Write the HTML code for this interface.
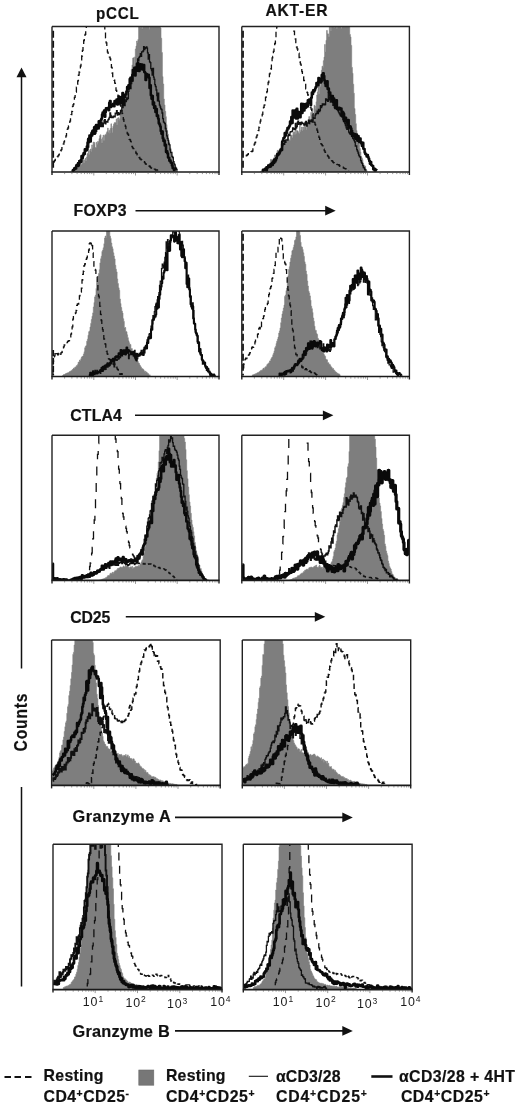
<!DOCTYPE html>
<html><head><meta charset="utf-8"><title>Figure</title>
<style>
html,body{margin:0;padding:0;background:#fff}
svg{display:block}
text{font-family:"Liberation Sans",sans-serif;font-weight:bold;fill:#111;stroke:#111;stroke-width:0.2px}
text.tk{font-weight:normal;stroke:none;fill:#1a1a1a}
</style></head><body>
<svg width="520" height="1109" viewBox="0 0 520 1109">
<rect width="520" height="1109" fill="#fff"/>
<clipPath id="c00"><rect x="52.0" y="26.5" width="167.0" height="145.5"/></clipPath>
<g clip-path="url(#c00)">
<path d="M70.6 171.9H71.3V170.7H71.9V170.4H72.6V170.2H73.3V168.9H73.9V169.0H74.6V168.5H75.2V166.6H75.9V168.5H76.6V167.8H77.2V166.4H77.9V166.5H78.5V166.9H79.2V165.8H79.9V165.5H80.5V163.4H81.2V164.7H81.8V163.4H82.5V162.7H83.2V159.4H83.8V162.9H84.5V160.0H85.1V158.3H85.8V161.1H86.5V157.0H87.1V153.6H87.8V154.2H88.4V149.7H89.1V154.5H89.8V150.7H90.4V149.0H91.1V151.4H91.7V144.9H92.4V148.2H93.1V142.0H93.7V144.2H94.4V142.4H95.0V147.5H95.7V147.5H96.4V142.3H97.0V144.2H97.7V141.3H98.3V142.3H99.0V138.6H99.7V135.7H100.3V134.8H101.0V139.3H101.6V143.1H102.3V137.7H103.0V135.1H103.6V140.5H104.3V135.7H104.9V134.7H105.6V134.4H106.3V132.7H106.9V131.6H107.6V128.0H108.2V132.5H108.9V130.4H109.6V133.2H110.2V128.5H110.9V123.8H111.5V128.1H112.2V132.4H112.9V126.2H113.5V124.2H114.2V122.7H114.8V122.6H115.5V123.1H116.2V118.9H116.8V125.1H117.5V118.2H118.1V117.7H118.8V120.2H119.5V118.8H120.1V111.6H120.8V111.5H121.4V111.0H122.1V106.1H122.8V98.3H123.4V104.1H124.1V102.4H124.7V98.3H125.4V91.0H126.1V92.0H126.7V89.1H127.4V88.7H128.0V93.3H128.7V92.8H129.4V88.1H130.0V82.5H130.7V76.8H131.3V69.3H132.0V64.9H132.7V58.1H133.3V57.8H134.0V65.6H134.6V56.9H135.3V49.0H136.0V46.0H136.6V41.0H137.3V43.0H137.9V39.5H138.6V25.2H139.3V26.2H139.9V20.5H140.6V27.8H141.2V22.2H141.9V29.1H142.6V20.5H143.2V20.5H143.9V22.8H144.5V26.2H145.2V24.0H145.9V20.5H146.5V22.3H147.2V21.6H147.8V20.5H148.5V20.5H149.2V29.2H149.8V20.5H150.5V20.5H151.1V24.3H151.8V22.1H152.5V21.2H153.1V25.0H153.8V23.7H154.4V23.1H155.1V25.8H155.8V22.8H156.4V20.5H157.1V20.5H157.7V20.5H158.4V22.4H159.1V20.5H159.7V20.5H160.4V27.9H161.0V38.2H161.7V52.6H162.4V76.6H163.0V84.0H163.7V99.0H164.3V104.9H165.0V111.3H165.7V116.7H166.3V124.6H167.0V130.6H167.6V134.2H168.3V140.4H169.0V142.1H169.6V148.3H170.3V147.9H170.9V153.9H171.6V158.3H172.3V161.4H172.9V163.9H173.6V161.5H174.2V166.0H174.9V168.0H175.6V169.4H176.2V169.6H176.9V170.9H177.5V171.9L177.5 172.0 L70.6 172.0Z" fill="#7e7e7e" stroke="#7e7e7e" stroke-width="0.6"/>
<path d="M53.3 162.4H54.0V161.3H54.6V160.4H55.3V159.5H56.0V158.3H56.6V157.5H57.3V156.9H57.9V155.9H58.6V154.8H59.3V153.2H59.9V151.5H60.6V150.8H61.2V149.7H61.9V147.6H62.6V146.0H63.2V144.1H63.9V141.8H64.5V139.9H65.2V138.1H65.9V135.8H66.5V132.3H67.2V129.4H67.8V128.0H68.5V125.9H69.2V123.4H69.8V121.1H70.5V117.5H71.1V114.7H71.8V111.4H72.5V106.3H73.1V104.7H73.8V101.4H74.4V97.3H75.1V95.7H75.8V92.1H76.4V87.2H77.1V84.4H77.7V80.8H78.4V75.2H79.1V72.0H79.7V69.5H80.4V66.0H81.0V61.5H81.7V56.0H82.4V50.3H83.0V44.8H83.7V40.5H84.3V38.0H85.0V34.3H85.7V30.3H86.3V25.6H87.0V20.6H87.6V21.1H88.3V21.4H89.0V21.8H89.6V22.1H90.3V23.0H90.9V22.7H91.6V21.2H92.3V20.5H92.9V20.7H93.6V22.0H94.2V21.5H94.9V20.9H95.6V22.0H96.2V22.0H96.9V21.0H97.5V21.8H98.2V22.3H98.9V21.9H99.5V22.7H100.2V23.3H100.8V22.1H101.5V20.8H102.2V21.3H102.8V21.6H103.5V20.5H104.1V23.7H104.8V32.4H105.5V37.9H106.1V42.8H106.8V47.6H107.4V52.2H108.1V55.3H108.8V56.2H109.4V57.1H110.1V59.0H110.7V61.3H111.4V67.3H112.1V73.0H112.7V76.7H113.4V78.9H114.0V80.2H114.7V83.2H115.4V86.9H116.0V90.4H116.7V93.1H117.3V93.8H118.0V96.2H118.7V100.8H119.3V103.3H120.0V104.9H120.6V107.8H121.3V110.6H122.0V113.5H122.6V116.5H123.3V119.5H123.9V122.3H124.6V123.8H125.3V126.4H125.9V129.7H126.6V131.7H127.2V133.5H127.9V134.5H128.6V136.9H129.2V139.4H129.9V139.9H130.5V141.3H131.2V143.8H131.9V146.5H132.5V147.9H133.2V148.7H133.8V149.4H134.5V149.8H135.2V151.4H135.8V153.0H136.5V153.7H137.1V154.9H137.8V155.6H138.5V156.2H139.1V157.5H139.8V158.8H140.4V159.2H141.1V159.8H141.8V160.3H142.4V160.6H143.1V161.4H143.7V161.6H144.4V162.4H145.1V163.6H145.7V164.1H146.4V164.4H147.0V165.2H147.7V165.4H148.4V165.3H149.0V166.0H149.7V166.5H150.3V167.4H151.0V168.2H151.7V168.3H152.3V168.5H153.0V169.4H153.6V169.6H154.3V169.1H155.0V169.5H155.6V170.0H156.3V170.1H156.9V170.0H157.6V169.9H158.3V170.4" fill="none" stroke="#111" stroke-width="1.30" stroke-dasharray="5.5 3.8"/>
<path d="M72.3 171.8H72.9V170.6H73.6V169.0H74.3V168.1H74.9V167.5H75.6V166.0H76.2V164.6H76.9V164.8H77.6V162.6H78.2V163.0H78.9V160.6H79.5V160.8H80.2V159.8H80.9V160.7H81.5V157.1H82.2V155.8H82.8V155.2H83.5V153.2H84.2V152.3H84.8V152.0H85.5V151.0H86.1V150.7H86.8V146.3H87.5V149.2H88.1V147.0H88.8V142.7H89.4V138.3H90.1V140.0H90.8V138.8H91.4V133.8H92.1V135.9H92.7V134.6H93.4V132.9H94.1V134.3H94.7V134.2H95.4V131.0H96.0V131.4H96.7V129.2H97.4V128.2H98.0V128.8H98.7V128.8H99.3V126.2H100.0V122.6H100.7V126.6H101.3V122.1H102.0V124.3H102.6V126.7H103.3V123.1H104.0V120.5H104.6V119.6H105.3V123.9H105.9V121.3H106.6V121.9H107.3V122.1H107.9V119.9H108.6V119.0H109.2V117.4H109.9V113.0H110.6V115.4H111.2V117.7H111.9V117.0H112.5V117.6H113.2V116.1H113.9V116.1H114.5V116.8H115.2V113.1H115.8V113.7H116.5V110.6H117.2V115.1H117.8V112.7H118.5V113.1H119.1V114.6H119.8V113.2H120.5V110.4H121.1V110.9H121.8V105.1H122.4V107.5H123.1V105.6H123.8V100.6H124.4V105.5H125.1V99.9H125.7V101.5H126.4V97.8H127.1V99.6H127.7V98.3H128.4V91.3H129.0V87.5H129.7V88.5H130.4V88.6H131.0V83.5H131.7V80.7H132.3V81.2H133.0V71.0H133.7V73.9H134.3V69.9H135.0V71.9H135.6V67.1H136.3V63.9H137.0V63.6H137.6V58.8H138.3V60.9H138.9V57.3H139.6V56.4H140.3V53.7H140.9V56.4H141.6V51.8H142.2V51.9H142.9V51.0H143.6V46.7H144.2V49.7H144.9V48.3H145.5V47.6H146.2V47.0H146.9V48.2H147.5V52.9H148.2V59.2H148.8V54.6H149.5V61.8H150.2V62.6H150.8V68.6H151.5V70.6H152.1V75.1H152.8V68.5H153.5V77.1H154.1V79.4H154.8V84.7H155.4V86.5H156.1V90.0H156.8V95.6H157.4V100.8H158.1V93.1H158.7V101.2H159.4V105.1H160.1V107.0H160.7V108.9H161.4V109.5H162.0V113.0H162.7V118.7H163.4V121.9H164.0V122.7H164.7V123.7H165.3V128.5H166.0V131.2H166.7V135.8H167.3V138.4H168.0V140.4H168.6V144.0H169.3V144.8H170.0V149.8H170.6V152.7H171.3V152.5H171.9V156.5H172.6V157.5H173.3V161.7H173.9V163.8H174.6V164.9H175.2V167.5H175.9V168.4H176.6V169.8H177.2V170.5" fill="none" stroke="#111" stroke-width="1.30"/>
<path d="M72.3 170.9H72.9V170.0H73.6V169.7H74.3V168.3H74.9V168.8H75.6V168.4H76.2V166.2H76.9V164.7H77.6V165.9H78.2V165.6H78.9V163.6H79.5V161.1H80.2V161.5H80.9V161.8H81.5V156.1H82.2V157.9H82.8V155.5H83.5V153.3H84.2V153.9H84.8V149.2H85.5V150.1H86.1V150.2H86.8V146.4H87.5V142.6H88.1V139.1H88.8V138.2H89.4V135.6H90.1V141.5H90.8V136.2H91.4V133.1H92.1V131.2H92.7V130.4H93.4V130.7H94.1V127.2H94.7V133.1H95.4V126.2H96.0V125.0H96.7V126.6H97.4V128.3H98.0V127.0H98.7V121.3H99.3V122.1H100.0V120.7H100.7V120.6H101.3V118.8H102.0V114.5H102.6V112.5H103.3V115.3H104.0V110.4H104.6V116.7H105.3V112.1H105.9V108.2H106.6V109.3H107.3V107.9H107.9V108.1H108.6V110.3H109.2V102.7H109.9V101.0H110.6V107.0H111.2V105.1H111.9V105.7H112.5V106.1H113.2V103.7H113.9V106.3H114.5V100.9H115.2V103.6H115.8V100.7H116.5V99.6H117.2V104.6H117.8V104.3H118.5V96.4H119.1V98.4H119.8V101.8H120.5V103.3H121.1V97.1H121.8V97.7H122.4V93.0H123.1V104.5H123.8V97.2H124.4V97.1H125.1V94.8H125.7V94.2H126.4V91.6H127.1V86.9H127.7V89.0H128.4V85.2H129.0V87.8H129.7V78.9H130.4V77.7H131.0V80.1H131.7V80.5H132.3V74.7H133.0V70.0H133.7V70.6H134.3V67.8H135.0V75.4H135.6V70.5H136.3V70.7H137.0V66.6H137.6V63.1H138.3V69.4H138.9V71.0H139.6V66.7H140.3V64.2H140.9V68.9H141.6V64.4H142.2V69.6H142.9V65.0H143.6V65.0H144.2V72.0H144.9V72.8H145.5V80.1H146.2V73.9H146.9V76.6H147.5V74.7H148.2V74.8H148.8V77.8H149.5V88.0H150.2V85.2H150.8V95.3H151.5V98.8H152.1V95.9H152.8V104.5H153.5V102.6H154.1V107.9H154.8V106.3H155.4V112.1H156.1V109.1H156.8V115.9H157.4V115.4H158.1V118.7H158.7V123.2H159.4V124.6H160.1V126.6H160.7V131.1H161.4V133.8H162.0V131.5H162.7V138.3H163.4V141.0H164.0V140.6H164.7V145.4H165.3V144.7H166.0V152.0H166.7V151.2H167.3V153.6H168.0V157.5H168.6V157.7H169.3V160.7H170.0V160.6H170.6V162.5H171.3V163.1H171.9V165.6H172.6V168.0H173.3V168.5H173.9V169.9H174.6V169.0H175.2V170.0" fill="none" stroke="#0a0a0a" stroke-width="2.50" stroke-linejoin="round"/>

<path d="M53.2 30.7V170.4" stroke="#111" stroke-width="1.8" stroke-dasharray="7 3" fill="none"/>
</g>
<path d="M52.0 26.5H219.0V175.0" fill="none" stroke="#222" stroke-width="1.4"/>
<path d="M52.0 26.5V175.0" fill="none" stroke="#222" stroke-width="1.4"/>
<path d="M51.5 172.0H219.5" fill="none" stroke="#1a1a1a" stroke-width="1.6"/>
<path d="M64.6 172.5v1.6M71.9 172.5v1.6M77.1 172.5v1.6M81.2 172.5v1.6M84.5 172.5v1.6M87.3 172.5v1.6M89.7 172.5v1.6M91.8 172.5v1.6M106.3 172.5v1.6M113.7 172.5v1.6M118.9 172.5v1.6M122.9 172.5v1.6M126.2 172.5v1.6M129.0 172.5v1.6M131.5 172.5v1.6M133.6 172.5v1.6M93.8 172.5v3M148.1 172.5v1.6M155.4 172.5v1.6M160.6 172.5v1.6M164.7 172.5v1.6M168.0 172.5v1.6M170.8 172.5v1.6M173.2 172.5v1.6M175.3 172.5v1.6M135.5 172.5v3M189.8 172.5v1.6M197.2 172.5v1.6M202.4 172.5v1.6M206.4 172.5v1.6M209.7 172.5v1.6M212.5 172.5v1.6M215.0 172.5v1.6M217.1 172.5v1.6M177.2 172.5v3" stroke="#555" stroke-width="0.6" fill="none"/>
<clipPath id="c01"><rect x="241.8" y="26.5" width="167.6" height="145.5"/></clipPath>
<g clip-path="url(#c01)">
<path d="M260.6 171.2H261.3V171.1H261.9V170.6H262.6V169.9H263.3V169.9H263.9V168.9H264.6V168.5H265.2V169.1H265.9V166.9H266.6V166.9H267.2V167.6H267.9V165.3H268.5V165.3H269.2V163.1H269.9V165.5H270.5V159.4H271.2V160.1H271.8V159.4H272.5V162.4H273.2V159.6H273.8V157.7H274.5V155.0H275.1V156.7H275.8V155.3H276.5V152.9H277.1V150.5H277.8V150.1H278.4V151.5H279.1V150.8H279.8V149.4H280.4V148.0H281.1V143.8H281.7V146.6H282.4V143.4H283.1V144.7H283.7V144.7H284.4V141.3H285.0V139.5H285.7V143.3H286.4V141.3H287.0V138.5H287.7V132.4H288.3V138.8H289.0V139.9H289.7V140.5H290.3V135.7H291.0V135.2H291.6V135.2H292.3V137.8H293.0V132.3H293.6V134.4H294.3V131.8H294.9V134.3H295.6V129.1H296.3V133.5H296.9V130.7H297.6V130.9H298.2V132.4H298.9V133.5H299.6V125.2H300.2V131.8H300.9V130.0H301.5V127.0H302.2V131.0H302.9V127.0H303.5V129.4H304.2V123.5H304.8V122.0H305.5V127.3H306.2V129.4H306.8V124.4H307.5V124.5H308.1V119.8H308.8V116.6H309.5V119.2H310.1V123.7H310.8V112.5H311.4V114.8H312.1V108.6H312.8V113.1H313.4V113.8H314.1V105.2H314.7V106.1H315.4V109.3H316.1V101.8H316.7V95.0H317.4V91.9H318.0V86.6H318.7V94.0H319.4V84.1H320.0V86.4H320.7V81.1H321.3V70.3H322.0V66.2H322.7V67.5H323.3V60.7H324.0V57.1H324.6V44.5H325.3V51.9H326.0V40.3H326.6V30.4H327.3V33.8H327.9V33.9H328.6V36.8H329.3V21.4H329.9V20.5H330.6V30.9H331.2V22.2H331.9V20.5H332.6V20.5H333.2V20.5H333.9V28.0H334.5V20.5H335.2V20.5H335.9V20.5H336.5V28.4H337.2V20.5H337.8V24.3H338.5V22.7H339.2V22.6H339.8V20.5H340.5V24.4H341.1V28.6H341.8V21.3H342.5V20.5H343.1V20.5H343.8V22.3H344.4V20.5H345.1V21.0H345.8V21.6H346.4V20.5H347.1V25.0H347.7V22.5H348.4V21.2H349.1V25.2H349.7V34.5H350.4V36.9H351.0V45.4H351.7V67.4H352.4V73.3H353.0V84.2H353.7V93.3H354.3V108.5H355.0V114.5H355.7V123.7H356.3V130.5H357.0V133.5H357.6V140.0H358.3V142.3H359.0V144.5H359.6V148.5H360.3V152.0H360.9V156.6H361.6V157.9H362.3V159.6H362.9V163.5H363.6V164.9H364.2V165.8H364.9V166.1H365.6V169.0H366.2V170.0H366.9V171.0L366.9 172.0 L260.6 172.0Z" fill="#7e7e7e" stroke="#7e7e7e" stroke-width="0.6"/>
<path d="M245.7 155.8H246.3V155.5H247.0V155.0H247.6V154.3H248.3V153.6H249.0V153.2H249.6V152.9H250.3V152.0H250.9V151.6H251.6V151.5H252.3V151.0H252.9V148.8H253.6V146.5H254.2V144.1H254.9V142.5H255.6V140.1H256.2V137.1H256.9V135.2H257.5V133.1H258.2V130.6H258.9V127.1H259.5V123.8H260.2V121.2H260.8V119.3H261.5V117.1H262.2V114.3H262.8V110.7H263.5V107.4H264.1V105.1H264.8V101.2H265.5V97.3H266.1V95.2H266.8V91.6H267.4V86.3H268.1V82.5H268.8V78.3H269.4V73.9H270.1V71.6H270.7V69.0H271.4V62.7H272.1V57.8H272.7V56.5H273.4V51.4H274.0V46.0H274.7V43.5H275.4V37.9H276.0V31.7H276.7V26.6H277.3V20.5H278.0V20.5H278.7V21.6H279.3V22.1H280.0V23.8H280.6V23.6H281.3V21.7H282.0V21.6H282.6V22.0H283.3V22.4H283.9V21.2H284.6V20.5H285.3V20.5H285.9V20.5H286.6V21.9H287.2V21.0H287.9V20.5H288.6V20.5H289.2V20.5H289.9V20.5H290.5V20.9H291.2V22.2H291.9V22.8H292.5V22.7H293.2V25.9H293.8V31.2H294.5V35.8H295.2V38.9H295.8V42.7H296.5V47.0H297.1V48.8H297.8V50.3H298.5V53.2H299.1V57.5H299.8V61.8H300.4V64.2H301.1V67.3H301.8V71.6H302.4V75.1H303.1V76.9H303.7V80.5H304.4V82.8H305.1V83.7H305.7V88.8H306.4V92.0H307.0V92.6H307.7V95.0H308.4V97.9H309.0V101.5H309.7V104.7H310.3V107.1H311.0V109.2H311.7V110.7H312.3V113.7H313.0V117.9H313.6V120.9H314.3V122.4H315.0V124.5H315.6V126.5H316.3V128.3H316.9V130.2H317.6V132.3H318.3V135.1H318.9V137.3H319.6V139.3H320.2V141.9H320.9V143.8H321.6V144.7H322.2V145.7H322.9V147.4H323.5V149.1H324.2V150.7H324.9V152.1H325.5V153.1H326.2V154.0H326.8V155.0H327.5V155.9H328.2V156.7H328.8V158.2H329.5V159.6H330.1V159.9H330.8V160.1H331.5V160.6H332.1V161.2H332.8V162.1H333.4V162.7H334.1V163.0H334.8V163.4H335.4V163.8H336.1V164.1H336.7V164.4H337.4V164.6H338.1V164.6H338.7V165.0H339.4V166.0H340.0V166.3H340.7V166.1H341.4V166.7H342.0V167.2H342.7V167.2H343.3V167.9H344.0V168.4H344.7V168.6H345.3V168.7H346.0V169.0H346.6V169.5H347.3V169.9H348.0V170.4H348.6V170.8" fill="none" stroke="#111" stroke-width="1.30" stroke-dasharray="5.5 3.8"/>
<path d="M262.3 170.3H262.9V170.9H263.6V170.3H264.3V169.0H264.9V168.2H265.6V168.0H266.2V166.7H266.9V167.1H267.6V166.5H268.2V165.1H268.9V165.1H269.5V165.3H270.2V164.7H270.9V164.1H271.5V162.6H272.2V161.9H272.8V160.9H273.5V160.7H274.2V161.3H274.8V159.5H275.5V158.8H276.1V157.6H276.8V153.6H277.5V154.1H278.1V152.8H278.8V153.7H279.4V153.1H280.1V149.2H280.8V148.9H281.4V148.4H282.1V145.9H282.7V144.6H283.4V143.3H284.1V144.3H284.7V140.7H285.4V142.4H286.0V139.9H286.7V139.8H287.4V140.0H288.0V135.8H288.7V134.5H289.3V135.4H290.0V132.2H290.7V131.6H291.3V131.6H292.0V131.1H292.6V127.9H293.3V128.5H294.0V129.3H294.6V129.7H295.3V123.3H295.9V128.1H296.6V126.5H297.3V122.3H297.9V121.1H298.6V124.3H299.2V122.6H299.9V123.4H300.6V124.5H301.2V122.1H301.9V122.9H302.5V123.3H303.2V123.8H303.9V125.2H304.5V124.9H305.2V122.3H305.8V121.5H306.5V126.2H307.2V123.2H307.8V122.8H308.5V120.2H309.1V123.6H309.8V120.9H310.5V121.5H311.1V120.0H311.8V121.5H312.4V122.1H313.1V118.2H313.8V118.1H314.4V118.4H315.1V115.1H315.7V113.9H316.4V113.5H317.1V111.1H317.7V113.7H318.4V109.3H319.0V111.5H319.7V110.6H320.4V105.6H321.0V107.5H321.7V105.9H322.3V104.0H323.0V104.9H323.7V104.0H324.3V104.9H325.0V104.6H325.6V99.0H326.3V99.5H327.0V100.7H327.6V101.3H328.3V92.6H328.9V99.9H329.6V97.2H330.3V102.0H330.9V98.8H331.6V99.0H332.2V101.9H332.9V105.4H333.6V104.1H334.2V100.7H334.9V108.5H335.5V105.4H336.2V108.2H336.9V109.4H337.5V109.6H338.2V111.7H338.8V112.8H339.5V114.0H340.2V115.6H340.8V115.6H341.5V114.0H342.1V117.0H342.8V119.6H343.5V121.1H344.1V121.1H344.8V123.5H345.4V125.5H346.1V127.8H346.8V129.4H347.4V127.0H348.1V128.2H348.7V132.2H349.4V133.3H350.1V134.3H350.7V129.2H351.4V133.7H352.0V130.6H352.7V138.4H353.4V139.0H354.0V140.6H354.7V142.0H355.3V146.0H356.0V146.0H356.7V149.7H357.3V151.2H358.0V153.0H358.6V155.2H359.3V156.6H360.0V157.2H360.6V160.6H361.3V162.3H361.9V163.3H362.6V165.6H363.3V167.5H363.9V167.8H364.6V169.5H365.2V170.1H365.9V170.6" fill="none" stroke="#111" stroke-width="1.30"/>
<path d="M262.3 171.3H262.9V169.8H263.6V169.7H264.3V169.8H264.9V169.4H265.6V168.9H266.2V170.2H266.9V167.2H267.6V167.4H268.2V165.6H268.9V166.7H269.5V166.8H270.2V166.4H270.9V164.1H271.5V164.0H272.2V165.1H272.8V162.7H273.5V162.9H274.2V159.5H274.8V161.4H275.5V159.9H276.1V158.2H276.8V155.3H277.5V155.2H278.1V154.6H278.8V153.7H279.4V152.1H280.1V150.8H280.8V150.1H281.4V150.1H282.1V141.7H282.7V140.5H283.4V137.9H284.1V137.4H284.7V132.9H285.4V135.6H286.0V132.9H286.7V130.6H287.4V128.0H288.0V128.4H288.7V127.0H289.3V125.8H290.0V121.6H290.7V123.6H291.3V117.1H292.0V123.1H292.6V110.5H293.3V116.0H294.0V113.2H294.6V117.5H295.3V110.2H295.9V118.6H296.6V108.8H297.3V118.4H297.9V113.5H298.6V111.9H299.2V112.6H299.9V117.2H300.6V113.0H301.2V103.7H301.9V113.0H302.5V109.8H303.2V104.0H303.9V110.5H304.5V104.3H305.2V107.9H305.8V107.3H306.5V103.6H307.2V106.4H307.8V100.3H308.5V102.8H309.1V99.5H309.8V99.5H310.5V104.9H311.1V97.8H311.8V92.5H312.4V94.0H313.1V90.3H313.8V91.4H314.4V90.3H315.1V88.5H315.7V86.9H316.4V83.1H317.1V84.9H317.7V85.3H318.4V77.9H319.0V78.6H319.7V78.7H320.4V82.6H321.0V81.6H321.7V74.9H322.3V77.7H323.0V73.2H323.7V76.1H324.3V80.5H325.0V83.6H325.6V85.9H326.3V83.2H327.0V81.3H327.6V88.9H328.3V88.6H328.9V92.2H329.6V92.6H330.3V95.7H330.9V96.8H331.6V98.7H332.2V95.9H332.9V101.8H333.6V98.5H334.2V101.3H334.9V107.6H335.5V103.9H336.2V100.2H336.9V109.0H337.5V108.4H338.2V109.7H338.8V107.8H339.5V109.3H340.2V108.8H340.8V108.5H341.5V116.0H342.1V111.7H342.8V112.5H343.5V113.7H344.1V121.2H344.8V119.8H345.4V117.8H346.1V120.0H346.8V122.8H347.4V125.0H348.1V120.0H348.7V127.6H349.4V126.2H350.1V126.4H350.7V128.4H351.4V132.5H352.0V136.0H352.7V133.6H353.4V135.9H354.0V133.9H354.7V137.4H355.3V138.8H356.0V134.5H356.7V137.3H357.3V140.7H358.0V136.0H358.6V139.6H359.3V142.3H360.0V138.6H360.6V142.0H361.3V143.7H361.9V146.1H362.6V142.8H363.3V148.8H363.9V149.1H364.6V152.4H365.2V154.0H365.9V154.4H366.6V156.4H367.2V154.9H367.9V156.9H368.5V158.7H369.2V160.9H369.9V163.7H370.5V162.1H371.2V165.0H371.8V165.4H372.5V166.0H373.2V169.3H373.8V168.5H374.5V170.5H375.1V170.6H375.8V169.2H376.5V168.9" fill="none" stroke="#0a0a0a" stroke-width="2.50" stroke-linejoin="round"/>

<path d="M243.0 30.7V170.4" stroke="#111" stroke-width="1.8" stroke-dasharray="7 3" fill="none"/>
</g>
<path d="M241.8 26.5H409.4V175.0" fill="none" stroke="#222" stroke-width="1.4"/>
<path d="M241.8 26.5V175.0" fill="none" stroke="#222" stroke-width="1.4"/>
<path d="M241.3 172.0H409.9" fill="none" stroke="#1a1a1a" stroke-width="1.6"/>
<path d="M254.4 172.5v1.6M261.8 172.5v1.6M267.0 172.5v1.6M271.1 172.5v1.6M274.4 172.5v1.6M277.2 172.5v1.6M279.6 172.5v1.6M281.8 172.5v1.6M296.3 172.5v1.6M303.7 172.5v1.6M308.9 172.5v1.6M313.0 172.5v1.6M316.3 172.5v1.6M319.1 172.5v1.6M321.5 172.5v1.6M323.7 172.5v1.6M283.7 172.5v3M338.2 172.5v1.6M345.6 172.5v1.6M350.8 172.5v1.6M354.9 172.5v1.6M358.2 172.5v1.6M361.0 172.5v1.6M363.4 172.5v1.6M365.6 172.5v1.6M325.6 172.5v3M380.1 172.5v1.6M387.5 172.5v1.6M392.7 172.5v1.6M396.8 172.5v1.6M400.1 172.5v1.6M402.9 172.5v1.6M405.3 172.5v1.6M407.5 172.5v1.6M367.5 172.5v3" stroke="#555" stroke-width="0.6" fill="none"/>
<clipPath id="c10"><rect x="52.0" y="231.0" width="167.0" height="145.5"/></clipPath>
<g clip-path="url(#c10)">
<path d="M62.3 375.7H63.0V375.0H63.6V374.5H64.3V374.5H64.9V374.1H65.6V373.6H66.3V373.3H66.9V373.1H67.6V372.8H68.2V372.7H68.9V372.0H69.6V371.5H70.2V371.3H70.9V370.7H71.5V370.6H72.2V369.5H72.9V369.1H73.5V368.1H74.2V368.8H74.8V367.0H75.5V367.2H76.2V365.8H76.8V365.4H77.5V364.6H78.1V362.2H78.8V362.0H79.5V360.0H80.1V361.0H80.8V358.8H81.4V357.0H82.1V356.5H82.8V356.0H83.4V354.0H84.1V351.7H84.7V347.8H85.4V346.2H86.1V345.6H86.7V341.2H87.4V339.2H88.0V335.2H88.7V331.7H89.4V330.9H90.0V327.0H90.7V323.4H91.3V319.6H92.0V316.2H92.7V312.9H93.3V307.0H94.0V302.5H94.6V296.9H95.3V295.3H96.0V288.4H96.6V282.3H97.3V279.5H97.9V276.0H98.6V273.4H99.3V269.7H99.9V262.9H100.6V258.8H101.2V256.3H101.9V251.5H102.6V250.1H103.2V247.8H103.9V243.7H104.5V238.1H105.2V236.0H105.9V237.4H106.5V230.8H107.2V231.2H107.8V228.5H108.5V227.2H109.2V230.1H109.8V236.2H110.5V238.4H111.1V243.0H111.8V246.8H112.5V248.7H113.1V252.8H113.8V256.0H114.4V258.9H115.1V265.3H115.8V269.2H116.4V271.9H117.1V278.9H117.7V283.6H118.4V287.8H119.1V290.3H119.7V299.0H120.4V303.5H121.0V307.5H121.7V311.0H122.4V313.0H123.0V318.7H123.7V321.4H124.3V327.9H125.0V327.5H125.7V331.4H126.3V331.8H127.0V334.8H127.6V337.7H128.3V340.8H129.0V342.7H129.6V344.4H130.3V344.5H130.9V348.7H131.6V348.6H132.3V352.2H132.9V353.9H133.6V354.6H134.2V356.2H134.9V356.2H135.6V360.3H136.2V359.8H136.9V361.4H137.5V361.3H138.2V362.9H138.9V363.4H139.5V365.0H140.2V366.2H140.8V367.2H141.5V368.5H142.2V368.7H142.8V369.3H143.5V369.9H144.1V371.4H144.8V371.1H145.5V372.4H146.1V371.9H146.8V372.7H147.4V373.5H148.1V373.8H148.8V375.0H149.4V375.2H150.1V374.8L150.1 376.5 L62.3 376.5Z" fill="#7e7e7e" stroke="#7e7e7e" stroke-width="0.6"/>
<path d="M52.3 374.0H53.0V361.1H53.6V358.9H54.3V355.9H55.0V353.6H55.6V352.5H56.3V351.8H56.9V353.6H57.6V354.9H58.3V353.5H58.9V352.8H59.6V354.6H60.2V354.4H60.9V352.8H61.6V352.3H62.2V351.3H62.9V349.3H63.5V346.8H64.2V344.8H64.9V343.8H65.5V342.6H66.2V342.5H66.8V342.6H67.5V341.3H68.2V341.2H68.8V340.6H69.5V339.0H70.1V336.8H70.8V334.2H71.5V332.1H72.1V326.9H72.8V319.1H73.4V314.8H74.1V313.9H74.8V313.6H75.4V312.8H76.1V310.3H76.7V305.3H77.4V303.9H78.1V304.0H78.7V300.4H79.4V295.8H80.0V293.3H80.7V292.2H81.4V288.2H82.0V280.0H82.7V274.3H83.3V271.1H84.0V265.6H84.7V264.0H85.3V262.7H86.0V259.4H86.6V257.9H87.3V253.8H88.0V253.2H88.6V250.0H89.3V243.7H89.9V242.9H90.6V243.8H91.3V242.1H91.9V245.6H92.6V252.9H93.2V261.6H93.9V267.2H94.6V269.4H95.2V270.2H95.9V274.4H96.5V276.9H97.2V282.6H97.9V291.2H98.5V296.1H99.2V300.5H99.8V306.4H100.5V314.3H101.2V320.5H101.8V325.0H102.5V329.6H103.1V333.9H103.8V339.0H104.5V340.4H105.1V344.2H105.8V349.6H106.4V351.2H107.1V353.9H107.8V358.1H108.4V358.6H109.1V359.3H109.7V359.4H110.4V360.2H111.1V362.5H111.7V362.2H112.4V362.1H113.0V364.0H113.7V364.7H114.4V364.2H115.0V364.3H115.7V365.4H116.3V367.2H117.0V368.8H117.7V369.7H118.3V371.3H119.0V373.1H119.6V374.2H120.3V374.3H121.0V373.7H121.6V373.9H122.3V374.3H122.9V374.6H123.6V375.4" fill="none" stroke="#111" stroke-width="1.30" stroke-dasharray="5.5 3.8"/>
<path d="M88.9 374.8H89.6V374.7H90.2V375.6H90.9V375.9H91.6V374.2H92.2V374.2H92.9V373.3H93.5V374.1H94.2V374.6H94.9V370.4H95.5V373.4H96.2V372.4H96.8V370.3H97.5V372.8H98.2V372.2H98.8V372.5H99.5V370.2H100.1V373.4H100.8V370.8H101.5V369.9H102.1V371.4H102.8V370.0H103.4V369.7H104.1V369.7H104.8V365.3H105.4V369.4H106.1V366.4H106.7V366.8H107.4V367.2H108.1V364.4H108.7V365.3H109.4V365.4H110.0V363.7H110.7V364.0H111.4V360.3H112.0V360.4H112.7V359.9H113.3V361.8H114.0V366.8H114.7V360.5H115.3V359.3H116.0V359.0H116.6V360.3H117.3V359.4H118.0V355.6H118.6V359.0H119.3V356.6H119.9V357.7H120.6V351.9H121.3V352.3H121.9V355.9H122.6V350.8H123.2V354.5H123.9V353.9H124.6V353.1H125.2V353.0H125.9V352.7H126.5V353.2H127.2V351.6H127.9V352.5H128.5V358.6H129.2V355.1H129.8V354.2H130.5V353.9H131.2V351.8H131.8V353.8H132.5V353.1H133.1V355.9H133.8V352.7H134.5V350.4H135.1V354.3H135.8V357.1H136.4V360.8H137.1V358.6H137.8V354.5H138.4V355.3H139.1V353.4H139.7V354.3H140.4V352.4H141.1V350.4H141.7V354.0H142.4V352.7H143.0V350.7H143.7V350.6H144.4V353.0H145.0V347.7H145.7V345.3H146.3V346.9H147.0V339.8H147.7V343.2H148.3V336.8H149.0V334.0H149.6V333.7H150.3V335.5H151.0V326.0H151.6V328.3H152.3V324.0H152.9V315.7H153.6V320.0H154.3V311.6H154.9V306.5H155.6V305.9H156.2V303.2H156.9V304.9H157.6V296.7H158.2V301.2H158.9V292.7H159.5V285.4H160.2V281.1H160.9V281.6H161.5V268.6H162.2V264.1H162.8V265.4H163.5V268.0H164.2V262.1H164.8V257.4H165.5V252.5H166.1V241.9H166.8V248.1H167.5V239.7H168.1V249.3H168.8V243.6H169.4V241.6H170.1V242.1H170.8V240.1H171.4V238.0H172.1V236.9H172.7V231.1H173.4V226.6H174.1V232.9H174.7V236.6H175.4V233.5H176.0V226.9H176.7V229.4H177.4V225.0H178.0V230.8H178.7V228.6H179.3V234.1H180.0V244.5H180.7V241.6H181.3V248.2H182.0V241.4H182.6V245.1H183.3V251.3H184.0V257.4H184.6V258.0H185.3V267.3H185.9V264.5H186.6V276.5H187.3V279.0H187.9V275.1H188.6V286.5H189.2V287.9H189.9V297.2H190.6V296.1H191.2V303.8H191.9V309.2H192.5V302.8H193.2V310.5H193.9V321.4H194.5V324.6H195.2V331.8H195.8V333.5H196.5V333.6H197.2V341.4H197.8V341.8H198.5V346.1H199.1V348.5H199.8V353.2H200.5V352.6H201.1V355.1H201.8V355.0H202.4V364.1H203.1V360.8H203.8V362.9H204.4V364.3H205.1V366.9H205.7V368.4H206.4V370.4H207.1V370.7H207.7V371.7H208.4V371.6H209.0V373.0H209.7V375.2" fill="none" stroke="#111" stroke-width="1.20"/>
<path d="M88.9 375.4H89.6V375.5H90.2V372.8H90.9V375.3H91.6V374.8H92.2V375.6H92.9V371.2H93.5V373.9H94.2V373.5H94.9V373.5H95.5V372.5H96.2V373.2H96.8V373.5H97.5V372.6H98.2V372.0H98.8V371.8H99.5V371.2H100.1V371.1H100.8V369.8H101.5V367.9H102.1V370.9H102.8V366.9H103.4V368.3H104.1V366.3H104.8V367.0H105.4V365.6H106.1V366.2H106.7V364.6H107.4V363.4H108.1V365.0H108.7V365.8H109.4V363.7H110.0V362.7H110.7V360.2H111.4V361.1H112.0V361.3H112.7V358.8H113.3V360.8H114.0V358.5H114.7V358.7H115.3V356.7H116.0V356.2H116.6V357.0H117.3V356.8H118.0V356.3H118.6V353.2H119.3V353.2H119.9V354.1H120.6V350.0H121.3V355.2H121.9V353.4H122.6V352.4H123.2V350.4H123.9V353.1H124.6V350.4H125.2V354.5H125.9V351.3H126.5V347.6H127.2V352.4H127.9V350.0H128.5V350.3H129.2V351.1H129.8V351.5H130.5V352.5H131.2V354.1H131.8V354.1H132.5V352.4H133.1V351.8H133.8V353.5H134.5V356.4H135.1V357.9H135.8V359.8H136.4V353.9H137.1V356.3H137.8V355.5H138.4V354.9H139.1V355.7H139.7V354.8H140.4V354.5H141.1V353.0H141.7V354.1H142.4V354.6H143.0V354.9H143.7V349.6H144.4V347.6H145.0V348.4H145.7V346.0H146.3V348.5H147.0V342.6H147.7V343.0H148.3V337.9H149.0V338.4H149.6V337.1H150.3V338.1H151.0V329.4H151.6V329.7H152.3V320.0H152.9V319.8H153.6V318.3H154.3V316.5H154.9V316.8H155.6V314.8H156.2V304.4H156.9V308.6H157.6V299.9H158.2V307.4H158.9V298.9H159.5V294.7H160.2V289.8H160.9V286.7H161.5V283.2H162.2V276.8H162.8V278.7H163.5V272.8H164.2V270.9H164.8V263.4H165.5V262.8H166.1V253.8H166.8V270.3H167.5V248.8H168.1V247.3H168.8V250.9H169.4V250.8H170.1V240.5H170.8V235.3H171.4V235.2H172.1V235.7H172.7V235.6H173.4V237.3H174.1V241.6H174.7V240.9H175.4V232.4H176.0V238.0H176.7V240.2H177.4V243.2H178.0V236.9H178.7V235.0H179.3V243.7H180.0V249.4H180.7V242.7H181.3V256.0H182.0V257.3H182.6V251.7H183.3V249.2H184.0V256.8H184.6V261.2H185.3V268.3H185.9V262.8H186.6V284.0H187.3V287.3H187.9V278.9H188.6V278.5H189.2V289.6H189.9V296.4H190.6V304.3H191.2V306.6H191.9V308.0H192.5V306.4H193.2V318.4H193.9V323.4H194.5V323.8H195.2V329.5H195.8V332.8H196.5V334.9H197.2V335.9H197.8V343.0H198.5V342.2H199.1V351.4H199.8V349.1H200.5V354.6H201.1V354.9H201.8V359.6H202.4V360.4H203.1V362.9H203.8V362.2H204.4V362.5H205.1V365.7H205.7V367.0H206.4V367.0H207.1V369.3H207.7V368.9H208.4V371.5H209.0V371.6H209.7V372.7H210.4V376.0H211.0V374.1H211.7V375.0H212.3V375.7H213.0V374.9H213.7V374.5H214.3V376.1H215.0V376.3" fill="none" stroke="#0a0a0a" stroke-width="2.10" stroke-linejoin="round"/>

<path d="M53.2 350.1V375.4" stroke="#111" stroke-width="1.8" stroke-dasharray="6 2" fill="none"/>
</g>
<path d="M52.0 231.0H219.0V379.5" fill="none" stroke="#222" stroke-width="1.4"/>
<path d="M52.0 231.0V379.5" fill="none" stroke="#222" stroke-width="1.4"/>
<path d="M51.5 376.5H219.5" fill="none" stroke="#1a1a1a" stroke-width="1.6"/>
<path d="M64.6 377.0v1.6M71.9 377.0v1.6M77.1 377.0v1.6M81.2 377.0v1.6M84.5 377.0v1.6M87.3 377.0v1.6M89.7 377.0v1.6M91.8 377.0v1.6M106.3 377.0v1.6M113.7 377.0v1.6M118.9 377.0v1.6M122.9 377.0v1.6M126.2 377.0v1.6M129.0 377.0v1.6M131.5 377.0v1.6M133.6 377.0v1.6M93.8 377.0v3M148.1 377.0v1.6M155.4 377.0v1.6M160.6 377.0v1.6M164.7 377.0v1.6M168.0 377.0v1.6M170.8 377.0v1.6M173.2 377.0v1.6M175.3 377.0v1.6M135.5 377.0v3M189.8 377.0v1.6M197.2 377.0v1.6M202.4 377.0v1.6M206.4 377.0v1.6M209.7 377.0v1.6M212.5 377.0v1.6M215.0 377.0v1.6M217.1 377.0v1.6M177.2 377.0v3" stroke="#555" stroke-width="0.6" fill="none"/>
<clipPath id="c11"><rect x="241.8" y="231.0" width="167.6" height="145.5"/></clipPath>
<g clip-path="url(#c11)">
<path d="M252.3 374.9H253.0V375.0H253.6V374.6H254.3V374.2H254.9V374.3H255.6V373.6H256.3V373.6H256.9V372.9H257.6V372.6H258.2V372.6H258.9V371.8H259.6V371.5H260.2V370.7H260.9V370.2H261.5V370.4H262.2V369.8H262.9V368.6H263.5V368.1H264.2V369.3H264.8V367.3H265.5V366.7H266.2V366.4H266.8V364.7H267.5V363.9H268.1V363.6H268.8V362.7H269.5V360.9H270.1V360.9H270.8V358.9H271.4V357.8H272.1V356.9H272.8V354.8H273.4V353.2H274.1V350.9H274.7V347.8H275.4V346.4H276.1V343.5H276.7V341.3H277.4V339.3H278.0V337.1H278.7V333.1H279.4V330.9H280.0V327.9H280.7V322.7H281.3V318.1H282.0V313.9H282.7V311.2H283.3V308.1H284.0V305.0H284.6V296.4H285.3V295.0H286.0V290.6H286.6V288.1H287.3V280.1H287.9V275.8H288.6V269.4H289.3V266.7H289.9V262.1H290.6V258.3H291.2V255.2H291.9V250.8H292.6V250.0H293.2V247.5H293.9V244.8H294.5V240.6H295.2V239.7H295.9V236.9H296.5V229.8H297.2V229.4H297.8V225.2H298.5V226.0H299.2V232.0H299.8V235.6H300.5V242.3H301.1V246.7H301.8V247.2H302.5V249.5H303.1V252.8H303.8V256.4H304.4V261.8H305.1V264.2H305.8V271.0H306.4V274.3H307.1V281.0H307.7V286.0H308.4V291.2H309.1V293.0H309.7V295.9H310.4V300.2H311.0V306.2H311.7V308.7H312.4V312.4H313.0V318.0H313.7V321.3H314.3V326.2H315.0V330.2H315.7V330.4H316.3V333.6H317.0V334.4H317.6V338.3H318.3V339.4H319.0V341.1H319.6V342.4H320.3V347.5H320.9V346.4H321.6V348.3H322.3V350.8H322.9V352.6H323.6V354.1H324.2V355.5H324.9V356.4H325.6V359.0H326.2V359.7H326.9V359.8H327.5V362.8H328.2V362.7H328.9V364.5H329.5V364.3H330.2V365.6H330.8V366.8H331.5V367.5H332.2V369.0H332.8V368.5H333.5V370.0H334.1V370.2H334.8V371.5H335.5V372.1H336.1V372.3H336.8V373.6H337.4V373.3H338.1V374.1H338.8V373.9H339.4V374.7H340.1V375.1L340.1 376.5 L252.3 376.5Z" fill="#7e7e7e" stroke="#7e7e7e" stroke-width="0.6"/>
<path d="M243.0 367.9H243.7V363.8H244.3V360.9H245.0V359.3H245.6V358.2H246.3V358.1H247.0V358.6H247.6V357.2H248.3V355.3H248.9V354.3H249.6V352.9H250.3V351.8H250.9V349.8H251.6V347.8H252.2V346.9H252.9V347.3H253.6V346.3H254.2V344.9H254.9V341.8H255.5V339.1H256.2V339.0H256.9V337.6H257.5V334.4H258.2V330.7H258.8V328.3H259.5V327.5H260.2V329.6H260.8V328.0H261.5V322.1H262.1V319.9H262.8V318.6H263.5V316.1H264.1V313.5H264.8V309.4H265.4V306.8H266.1V306.7H266.8V305.3H267.4V303.4H268.1V298.3H268.7V294.7H269.4V292.9H270.1V288.4H270.7V286.7H271.4V283.0H272.0V278.3H272.7V276.1H273.4V273.4H274.0V269.5H274.7V265.7H275.3V260.5H276.0V253.3H276.7V254.1H277.3V252.7H278.0V247.4H278.6V244.5H279.3V238.7H280.0V236.9H280.6V238.4H281.3V238.8H281.9V244.7H282.6V251.1H283.3V258.5H283.9V261.5H284.6V262.8H285.2V264.1H285.9V269.7H286.6V274.3H287.2V283.2H287.9V290.2H288.5V295.9H289.2V302.7H289.9V305.1H290.5V310.6H291.2V318.5H291.8V324.0H292.5V330.1H293.2V334.4H293.8V340.5H294.5V347.5H295.1V352.3H295.8V354.5H296.5V354.6H297.1V356.9H297.8V360.4H298.4V362.0H299.1V363.7H299.8V363.9H300.4V364.6H301.1V365.4H301.7V367.1H302.4V367.8H303.1V366.7H303.7V367.3H304.4V369.0H305.0V369.6H305.7V368.6H306.4V369.7H307.0V371.2H307.7V370.7H308.3V371.1H309.0V371.3H309.7V370.8H310.3V371.9H311.0V372.5H311.6V372.6H312.3V373.1H313.0V373.5H313.6V373.9H314.3V373.0H314.9V373.6H315.6V374.4H316.3V374.7H316.9V375.2H317.6V375.6H318.2V375.7" fill="none" stroke="#111" stroke-width="1.30" stroke-dasharray="5.5 3.8"/>
<path d="M278.9 375.9H279.6V374.9H280.2V374.5H280.9V376.0H281.6V374.3H282.2V375.1H282.9V374.1H283.5V372.4H284.2V372.6H284.9V372.9H285.5V373.2H286.2V372.0H286.8V371.2H287.5V371.3H288.2V371.5H288.8V370.9H289.5V370.9H290.1V372.8H290.8V371.2H291.5V370.0H292.1V370.5H292.8V371.2H293.4V369.5H294.1V368.0H294.8V365.9H295.4V364.6H296.1V365.3H296.7V364.7H297.4V362.0H298.1V361.5H298.7V362.3H299.4V358.6H300.0V358.4H300.7V359.8H301.4V359.5H302.0V358.0H302.7V358.0H303.3V357.8H304.0V355.6H304.7V352.5H305.3V355.5H306.0V353.6H306.6V351.2H307.3V346.9H308.0V348.5H308.6V343.1H309.3V345.8H309.9V341.0H310.6V344.3H311.3V346.5H311.9V343.8H312.6V346.4H313.2V342.5H313.9V342.1H314.6V341.8H315.2V344.0H315.9V343.3H316.5V346.3H317.2V347.6H317.9V345.6H318.5V343.2H319.2V347.0H319.8V349.0H320.5V348.1H321.2V347.9H321.8V349.5H322.5V350.6H323.1V343.8H323.8V351.8H324.5V350.9H325.1V350.8H325.8V349.1H326.4V350.3H327.1V350.8H327.8V346.8H328.4V350.6H329.1V349.1H329.7V351.5H330.4V349.8H331.1V347.1H331.7V346.2H332.4V346.0H333.0V343.7H333.7V343.2H334.4V339.3H335.0V336.8H335.7V336.7H336.3V332.8H337.0V332.3H337.7V332.9H338.3V326.2H339.0V325.1H339.6V327.9H340.3V322.8H341.0V322.0H341.6V316.6H342.3V314.8H342.9V314.6H343.6V317.7H344.3V312.3H344.9V304.0H345.6V308.0H346.2V307.4H346.9V304.8H347.6V297.0H348.2V298.5H348.9V303.4H349.5V291.9H350.2V293.9H350.9V288.4H351.5V284.7H352.2V285.6H352.8V289.6H353.5V289.2H354.2V281.6H354.8V282.1H355.5V279.9H356.1V275.0H356.8V283.3H357.5V285.7H358.1V284.7H358.8V277.2H359.4V282.9H360.1V281.7H360.8V276.3H361.4V277.0H362.1V275.3H362.7V277.0H363.4V282.1H364.1V273.0H364.7V273.6H365.4V282.3H366.0V281.0H366.7V276.0H367.4V280.5H368.0V282.7H368.7V285.0H369.3V290.5H370.0V295.3H370.7V294.3H371.3V297.9H372.0V297.8H372.6V305.7H373.3V309.3H374.0V307.3H374.6V309.1H375.3V320.0H375.9V319.8H376.6V318.1H377.3V319.2H377.9V325.8H378.6V332.5H379.2V331.1H379.9V334.5H380.6V336.6H381.2V341.6H381.9V345.7H382.5V343.1H383.2V347.6H383.9V350.3H384.5V351.3H385.2V352.2H385.8V357.2H386.5V357.9H387.2V360.4H387.8V363.2H388.5V362.4H389.1V364.9H389.8V364.9H390.5V366.3H391.1V367.9H391.8V368.4H392.4V368.3H393.1V372.1H393.8V372.0H394.4V371.3H395.1V370.9H395.7V373.3H396.4V374.4H397.1V375.2H397.7V375.7H398.4V374.9" fill="none" stroke="#111" stroke-width="1.20"/>
<path d="M278.9 376.1H279.6V373.6H280.2V375.1H280.9V375.6H281.6V373.7H282.2V373.9H282.9V373.9H283.5V373.6H284.2V374.7H284.9V371.8H285.5V374.0H286.2V371.0H286.8V371.3H287.5V370.9H288.2V371.4H288.8V370.7H289.5V371.1H290.1V370.0H290.8V371.8H291.5V369.2H292.1V367.9H292.8V368.1H293.4V367.8H294.1V366.1H294.8V364.3H295.4V364.1H296.1V364.8H296.7V365.2H297.4V364.0H298.1V362.1H298.7V362.2H299.4V359.5H300.0V359.8H300.7V360.8H301.4V359.4H302.0V358.9H302.7V354.7H303.3V354.8H304.0V351.4H304.7V354.4H305.3V350.8H306.0V348.0H306.6V348.9H307.3V349.6H308.0V343.3H308.6V344.1H309.3V348.9H309.9V346.5H310.6V345.7H311.3V341.7H311.9V348.6H312.6V346.9H313.2V345.7H313.9V341.0H314.6V345.0H315.2V346.3H315.9V342.9H316.5V343.1H317.2V342.5H317.9V345.1H318.5V343.1H319.2V343.2H319.8V341.2H320.5V341.5H321.2V348.1H321.8V350.2H322.5V349.2H323.1V351.0H323.8V347.4H324.5V348.3H325.1V349.0H325.8V347.6H326.4V351.4H327.1V344.6H327.8V346.0H328.4V346.3H329.1V345.0H329.7V347.7H330.4V340.2H331.1V346.6H331.7V345.3H332.4V343.0H333.0V344.8H333.7V346.3H334.4V339.3H335.0V339.0H335.7V336.4H336.3V335.0H337.0V330.5H337.7V328.1H338.3V330.1H339.0V325.0H339.6V327.1H340.3V324.5H341.0V318.5H341.6V318.9H342.3V315.8H342.9V312.9H343.6V314.9H344.3V309.1H344.9V307.6H345.6V297.8H346.2V304.5H346.9V295.0H347.6V296.6H348.2V301.7H348.9V300.4H349.5V290.7H350.2V285.8H350.9V290.6H351.5V286.0H352.2V287.3H352.8V279.2H353.5V287.4H354.2V288.1H354.8V275.5H355.5V277.5H356.1V277.1H356.8V282.3H357.5V270.6H358.1V278.8H358.8V276.4H359.4V273.5H360.1V279.1H360.8V267.6H361.4V269.5H362.1V271.3H362.7V277.0H363.4V273.6H364.1V272.6H364.7V279.0H365.4V276.1H366.0V276.4H366.7V278.9H367.4V283.0H368.0V294.5H368.7V281.7H369.3V289.3H370.0V289.8H370.7V291.6H371.3V300.4H372.0V299.8H372.6V302.0H373.3V300.6H374.0V301.9H374.6V308.5H375.3V309.1H375.9V310.9H376.6V317.5H377.3V314.2H377.9V318.4H378.6V325.6H379.2V325.7H379.9V330.4H380.6V328.8H381.2V335.7H381.9V334.6H382.5V342.3H383.2V343.3H383.9V344.8H384.5V349.6H385.2V349.3H385.8V349.6H386.5V356.5H387.2V356.3H387.8V359.4H388.5V358.9H389.1V362.2H389.8V360.4H390.5V361.4H391.1V362.8H391.8V367.3H392.4V364.9H393.1V366.1H393.8V367.4H394.4V370.0H395.1V371.0H395.7V370.5H396.4V372.9H397.1V373.2H397.7V374.5H398.4V374.6H399.0V373.2H399.7V374.5H400.4V374.5H401.0V375.5H401.7V375.6" fill="none" stroke="#0a0a0a" stroke-width="2.20" stroke-linejoin="round"/>

<path d="M243.0 233.7V375.4" stroke="#111" stroke-width="1.8" stroke-dasharray="7 3" fill="none"/>
</g>
<path d="M241.8 231.0H409.4V379.5" fill="none" stroke="#222" stroke-width="1.4"/>
<path d="M241.8 231.0V379.5" fill="none" stroke="#222" stroke-width="1.4"/>
<path d="M241.3 376.5H409.9" fill="none" stroke="#1a1a1a" stroke-width="1.6"/>
<path d="M254.4 377.0v1.6M261.8 377.0v1.6M267.0 377.0v1.6M271.1 377.0v1.6M274.4 377.0v1.6M277.2 377.0v1.6M279.6 377.0v1.6M281.8 377.0v1.6M296.3 377.0v1.6M303.7 377.0v1.6M308.9 377.0v1.6M313.0 377.0v1.6M316.3 377.0v1.6M319.1 377.0v1.6M321.5 377.0v1.6M323.7 377.0v1.6M283.7 377.0v3M338.2 377.0v1.6M345.6 377.0v1.6M350.8 377.0v1.6M354.9 377.0v1.6M358.2 377.0v1.6M361.0 377.0v1.6M363.4 377.0v1.6M365.6 377.0v1.6M325.6 377.0v3M380.1 377.0v1.6M387.5 377.0v1.6M392.7 377.0v1.6M396.8 377.0v1.6M400.1 377.0v1.6M402.9 377.0v1.6M405.3 377.0v1.6M407.5 377.0v1.6M367.5 377.0v3" stroke="#555" stroke-width="0.6" fill="none"/>
<clipPath id="c20"><rect x="52.0" y="435.3" width="167.0" height="145.1"/></clipPath>
<g clip-path="url(#c20)">
<path d="M98.9 580.4H99.6V580.2H100.2V579.9H100.9V579.7H101.5V579.4H102.2V579.1H102.9V579.0H103.5V578.8H104.2V578.6H104.8V578.2H105.5V577.7H106.2V577.4H106.8V576.9H107.5V575.8H108.1V575.5H108.8V575.9H109.5V574.8H110.1V573.2H110.8V573.8H111.4V573.4H112.1V572.3H112.8V573.4H113.4V572.4H114.1V571.8H114.7V570.8H115.4V570.7H116.1V570.4H116.7V569.7H117.4V568.6H118.0V568.5H118.7V568.0H119.4V567.9H120.0V566.9H120.7V567.5H121.3V567.2H122.0V567.2H122.7V567.0H123.3V565.9H124.0V567.0H124.6V566.8H125.3V565.4H126.0V566.2H126.6V565.9H127.3V566.3H127.9V567.3H128.6V567.2H129.3V568.2H129.9V567.3H130.6V566.8H131.2V567.6H131.9V566.4H132.6V568.7H133.2V567.7H133.9V567.6H134.5V567.3H135.2V566.6H135.9V566.8H136.5V566.3H137.2V566.2H137.8V566.6H138.5V565.5H139.2V566.6H139.8V563.9H140.5V564.0H141.1V562.0H141.8V560.5H142.5V559.7H143.1V556.5H143.8V553.2H144.4V550.3H145.1V546.8H145.8V544.8H146.4V540.1H147.1V536.8H147.7V534.1H148.4V527.6H149.1V524.5H149.7V520.5H150.4V516.6H151.0V512.1H151.7V509.7H152.4V506.4H153.0V502.3H153.7V496.4H154.3V495.9H155.0V491.1H155.7V485.0H156.3V478.2H157.0V473.2H157.6V471.6H158.3V462.0H159.0V450.7H159.6V429.3H160.3V432.4H160.9V430.6H161.6V433.1H162.3V429.3H162.9V431.1H163.6V430.0H164.2V431.6H164.9V429.3H165.6V431.9H166.2V429.7H166.9V429.3H167.5V431.3H168.2V430.7H168.9V429.3H169.5V430.2H170.2V430.5H170.8V430.6H171.5V433.8H172.2V429.3H172.8V430.3H173.5V429.3H174.1V429.3H174.8V429.3H175.5V430.1H176.1V430.0H176.8V431.4H177.4V431.5H178.1V432.0H178.8V430.0H179.4V431.1H180.1V429.3H180.7V430.9H181.4V431.1H182.1V429.4H182.7V429.3H183.4V429.3H184.0V438.4H184.7V442.1H185.4V449.4H186.0V459.8H186.7V470.7H187.3V478.7H188.0V487.0H188.7V494.7H189.3V501.9H190.0V506.0H190.6V513.3H191.3V520.0H192.0V524.7H192.6V527.4H193.3V531.7H193.9V535.9H194.6V542.4H195.3V547.1H195.9V550.8H196.6V553.7H197.2V555.8H197.9V558.7H198.6V564.1H199.2V565.1H199.9V568.7H200.5V568.5H201.2V571.0H201.9V573.1H202.5V574.9H203.2V576.0H203.8V576.6H204.5V577.9H205.2V578.5H205.8V579.1H206.5V579.3H207.1V579.7H207.8V579.9H208.5V580.3L208.5 580.4 L98.9 580.4Z" fill="#7e7e7e" stroke="#7e7e7e" stroke-width="0.6"/>
<path d="M88.9 569.7H89.6V566.5H90.2V562.9H90.9V558.7H91.6V553.1H92.2V547.5H92.9V538.6H93.5V529.3H94.2V520.0H94.9V509.2H95.5V498.2H96.2V479.6H96.8V464.0H97.5V454.3H98.2V443.5H98.8V432.0H99.5V429.8H100.1V429.7H100.8V431.5H101.5V429.3H102.1V429.3H102.8V432.0H103.4V431.2H104.1V430.5H104.8V431.1H105.4V431.0H106.1V430.6H106.7V429.4H107.4V429.4H108.1V429.7H108.7V429.5H109.4V429.3H110.0V430.4H110.7V430.7H111.4V429.3H112.0V429.3H112.7V429.9H113.3V429.3H114.0V429.3H114.7V431.2H115.3V439.0H116.0V444.3H116.6V446.6H117.3V451.7H118.0V460.3H118.6V469.1H119.3V476.9H119.9V483.6H120.6V490.6H121.3V498.7H121.9V507.5H122.6V513.5H123.2V516.8H123.9V520.2H124.6V524.1H125.2V526.2H125.9V528.3H126.5V531.7H127.2V535.5H127.9V538.7H128.5V542.4H129.2V545.7H129.8V547.9H130.5V549.7H131.2V551.0H131.8V553.0H132.5V554.5H133.1V555.6H133.8V556.9H134.5V558.4H135.1V559.0H135.8V560.1" fill="none" stroke="#111" stroke-width="1.30" stroke-dasharray="9 8"/>
<path d="M137.2 562.9H137.8V563.5H138.5V563.2H139.1V563.4H139.8V563.4H140.5V563.2H141.1V563.7H141.8V563.3H142.4V563.5H143.1V563.8H143.8V564.1H144.4V564.0H145.1V563.3H145.7V563.2H146.4V563.7H147.1V564.2H147.7V564.3H148.4V564.0H149.0V564.1H149.7V564.1H150.4V563.9H151.0V564.6H151.7V564.9H152.3V564.4H153.0V565.0H153.7V565.9H154.3V565.9H155.0V566.6H155.6V566.8H156.3V567.0H157.0V567.5H157.6V568.2H158.3V567.9H158.9V567.5H159.6V568.2H160.3V568.5H160.9V568.5H161.6V568.3H162.2V568.9H162.9V569.1H163.6V569.0H164.2V569.4H164.9V569.9H165.5V570.0H166.2V570.3H166.9V571.0H167.5V571.6H168.2V572.3H168.8V572.8H169.5V573.3H170.2V573.9H170.8V574.7H171.5V575.2H172.1V575.6H172.8V576.1H173.5V576.6H174.1V577.7H174.8V578.5H175.4V578.5H176.1V579.1H176.8V580.0" fill="none" stroke="#111" stroke-width="1.30" stroke-dasharray="4 4"/>
<path d="M69.0 580.2H69.6V580.2H70.3V580.4H70.9V579.6H71.6V580.4H72.3V579.5H72.9V579.4H73.6V580.2H74.2V579.5H74.9V578.8H75.6V578.9H76.2V578.9H76.9V577.7H77.5V578.9H78.2V578.4H78.9V577.4H79.5V577.5H80.2V578.5H80.8V577.0H81.5V579.0H82.2V576.8H82.8V577.5H83.5V575.6H84.1V577.0H84.8V576.6H85.5V577.1H86.1V576.8H86.8V576.3H87.4V577.7H88.1V576.7H88.8V575.6H89.4V576.0H90.1V573.6H90.7V574.8H91.4V575.6H92.1V574.1H92.7V574.2H93.4V573.1H94.0V574.0H94.7V573.2H95.4V572.8H96.0V573.1H96.7V573.3H97.3V572.4H98.0V570.2H98.7V571.5H99.3V571.0H100.0V569.6H100.6V568.9H101.3V569.5H102.0V569.2H102.6V569.1H103.3V568.2H103.9V568.6H104.6V568.4H105.3V567.6H105.9V567.9H106.6V566.6H107.2V565.4H107.9V566.5H108.6V567.0H109.2V568.4H109.9V563.4H110.5V564.7H111.2V564.0H111.9V564.8H112.5V563.4H113.2V564.3H113.8V565.0H114.5V563.1H115.2V563.7H115.8V565.3H116.5V564.4H117.1V561.7H117.8V565.4H118.5V562.4H119.1V563.3H119.8V562.4H120.4V562.2H121.1V562.1H121.8V563.6H122.4V562.3H123.1V561.9H123.7V562.7H124.4V563.5H125.1V561.5H125.7V564.6H126.4V563.1H127.0V564.7H127.7V565.5H128.4V564.6H129.0V564.9H129.7V563.7H130.3V563.3H131.0V561.9H131.7V563.5H132.3V562.9H133.0V560.9H133.6V563.4H134.3V564.6H135.0V563.3H135.6V563.7H136.3V561.0H136.9V559.0H137.6V559.1H138.3V557.5H138.9V555.4H139.6V556.9H140.2V554.7H140.9V551.7H141.6V550.4H142.2V547.5H142.9V546.3H143.5V545.4H144.2V539.5H144.9V535.2H145.5V536.2H146.2V534.8H146.8V526.1H147.5V522.2H148.2V518.3H148.8V517.6H149.5V514.8H150.1V511.0H150.8V510.3H151.5V503.6H152.1V501.1H152.8V496.4H153.4V499.1H154.1V495.2H154.8V492.5H155.4V483.9H156.1V486.1H156.7V480.4H157.4V478.9H158.1V475.9H158.7V470.9H159.4V468.7H160.0V462.6H160.7V463.2H161.4V462.0H162.0V457.4H162.7V458.9H163.3V460.4H164.0V454.0H164.7V451.1H165.3V449.7H166.0V450.9H166.6V453.5H167.3V447.5H168.0V445.5H168.6V439.9H169.3V442.1H169.9V440.8H170.6V436.7H171.3V438.7H171.9V437.9H172.6V442.7H173.2V446.3H173.9V446.2H174.6V449.1H175.2V450.3H175.9V450.5H176.5V452.2H177.2V455.1H177.9V458.5H178.5V460.2H179.2V466.2H179.8V469.4H180.5V475.3H181.2V477.4H181.8V478.7H182.5V483.9H183.1V484.4H183.8V496.9H184.5V496.2H185.1V501.3H185.8V510.0H186.4V507.1H187.1V511.4H187.8V515.8H188.4V518.1H189.1V522.7H189.7V526.3H190.4V530.3H191.1V532.3H191.7V536.9H192.4V538.5H193.0V543.3H193.7V547.4H194.4V546.5H195.0V552.0H195.7V555.5H196.3V555.8H197.0V557.4H197.7V563.9H198.3V565.7H199.0V569.7H199.6V571.2H200.3V572.4H201.0V573.3H201.6V574.8H202.3V575.3H202.9V576.7H203.6V578.7H204.3V578.6H204.9V579.4H205.6V579.5H206.2V579.7H206.9V579.7" fill="none" stroke="#111" stroke-width="1.30"/>
<path d="M52.3 563.7H53.0V579.0H53.6V580.1H54.3V578.3H55.0V580.0H55.6V580.1H56.3V579.2H56.9V578.3H57.6V579.7H58.3V579.9H58.9V579.4H59.6V579.2H60.2V580.4H60.9V579.8H61.6V579.5H62.2V580.4H62.9V579.9H63.5V579.3H64.2V580.4H64.9V579.6H65.5V580.4H66.2V579.4H66.8V580.3H67.5V580.4H68.2V580.4H68.8V580.4H69.5V580.4H70.1V580.4H70.8V579.8H71.5V580.0H72.1V579.3H72.8V580.4H73.4V578.5H74.1V579.9H74.8V578.1H75.4V579.4H76.1V580.0H76.7V577.7H77.4V580.2H78.1V577.6H78.7V577.6H79.4V578.5H80.0V577.1H80.7V578.9H81.4V578.3H82.0V575.3H82.7V576.3H83.3V576.7H84.0V577.5H84.7V575.9H85.3V576.0H86.0V577.0H86.6V575.3H87.3V576.3H88.0V574.6H88.6V576.5H89.3V576.7H89.9V574.1H90.6V572.8H91.3V573.2H91.9V575.4H92.6V573.7H93.2V574.8H93.9V572.3H94.6V572.3H95.2V572.8H95.9V573.6H96.5V572.0H97.2V570.8H97.9V571.9H98.5V571.3H99.2V571.4H99.8V570.1H100.5V569.1H101.2V569.4H101.8V565.8H102.5V568.7H103.1V569.4H103.8V568.1H104.5V565.6H105.1V564.3H105.8V567.7H106.4V564.7H107.1V564.6H107.8V564.7H108.4V563.0H109.1V563.4H109.7V565.1H110.4V561.6H111.1V564.9H111.7V562.0H112.4V561.5H113.0V562.2H113.7V561.8H114.4V561.7H115.0V560.6H115.7V558.5H116.3V561.8H117.0V558.6H117.7V557.3H118.3V560.2H119.0V559.8H119.6V558.7H120.3V558.8H121.0V559.7H121.6V561.9H122.3V558.6H122.9V557.0H123.6V558.4H124.3V560.5H124.9V559.7H125.6V559.2H126.2V561.8H126.9V562.1H127.6V560.8H128.2V561.6H128.9V560.3H129.5V560.4H130.2V560.9H130.9V559.4H131.5V562.1H132.2V561.6H132.8V560.6H133.5V561.2H134.2V561.0H134.8V559.3H135.5V559.2H136.1V558.5H136.8V561.7H137.5V556.1H138.1V557.9H138.8V558.5H139.4V554.2H140.1V553.5H140.8V552.5H141.4V550.0H142.1V554.6H142.7V549.7H143.4V545.6H144.1V544.2H144.7V543.5H145.4V540.1H146.0V536.0H146.7V536.6H147.4V530.4H148.0V528.8H148.7V527.5H149.3V522.3H150.0V521.5H150.7V516.4H151.3V522.9H152.0V510.9H152.6V511.1H153.3V503.3H154.0V499.3H154.6V499.1H155.3V495.1H155.9V491.7H156.6V489.5H157.3V489.3H157.9V489.8H158.6V487.6H159.2V478.0H159.9V481.8H160.6V478.8H161.2V467.5H161.9V466.0H162.5V465.3H163.2V471.2H163.9V461.1H164.5V459.5H165.2V464.5H165.8V457.2H166.5V456.2H167.2V459.6H167.8V458.3H168.5V448.7H169.1V453.7H169.8V462.3H170.5V455.1H171.1V466.5H171.8V462.6H172.4V465.1H173.1V466.5H173.8V459.9H174.4V465.4H175.1V465.4H175.7V472.3H176.4V479.7H177.1V475.8H177.7V479.6H178.4V475.0H179.0V483.6H179.7V487.4H180.4V490.9H181.0V496.8H181.7V502.7H182.3V501.4H183.0V506.0H183.7V503.4H184.3V513.3H185.0V514.9H185.6V512.9H186.3V521.4H187.0V521.4H187.6V528.5H188.3V529.6H188.9V531.5H189.6V538.8H190.3V537.6H190.9V540.6H191.6V544.7H192.2V548.0H192.9V548.8H193.6V554.2H194.2V556.5H194.9V557.5H195.5V558.5H196.2V564.7H196.9V566.8H197.5V568.1H198.2V570.1H198.8V572.8H199.5V572.3H200.2V574.7H200.8V574.2H201.5V574.7H202.1V576.6H202.8V577.4H203.5V578.7H204.1V580.4H204.8V579.7H205.4V580.4" fill="none" stroke="#0a0a0a" stroke-width="2.50" stroke-linejoin="round"/>

</g>
<path d="M52.0 435.3H219.0V583.4" fill="none" stroke="#222" stroke-width="1.4"/>
<path d="M52.0 435.3V583.4" fill="none" stroke="#222" stroke-width="1.4"/>
<path d="M51.5 580.4H219.5" fill="none" stroke="#1a1a1a" stroke-width="1.6"/>
<path d="M64.6 580.9v1.6M71.9 580.9v1.6M77.1 580.9v1.6M81.2 580.9v1.6M84.5 580.9v1.6M87.3 580.9v1.6M89.7 580.9v1.6M91.8 580.9v1.6M106.3 580.9v1.6M113.7 580.9v1.6M118.9 580.9v1.6M122.9 580.9v1.6M126.2 580.9v1.6M129.0 580.9v1.6M131.5 580.9v1.6M133.6 580.9v1.6M93.8 580.9v3M148.1 580.9v1.6M155.4 580.9v1.6M160.6 580.9v1.6M164.7 580.9v1.6M168.0 580.9v1.6M170.8 580.9v1.6M173.2 580.9v1.6M175.3 580.9v1.6M135.5 580.9v3M189.8 580.9v1.6M197.2 580.9v1.6M202.4 580.9v1.6M206.4 580.9v1.6M209.7 580.9v1.6M212.5 580.9v1.6M215.0 580.9v1.6M217.1 580.9v1.6M177.2 580.9v3" stroke="#555" stroke-width="0.6" fill="none"/>
<clipPath id="c21"><rect x="241.8" y="435.3" width="167.6" height="145.1"/></clipPath>
<g clip-path="url(#c21)">
<path d="M288.9 580.4H289.6V580.3H290.2V579.9H290.9V579.5H291.5V579.7H292.2V578.8H292.9V578.4H293.5V578.1H294.2V578.5H294.8V577.6H295.5V577.7H296.2V577.2H296.8V577.1H297.5V575.8H298.1V575.8H298.8V575.4H299.5V575.3H300.1V574.2H300.8V573.9H301.4V573.2H302.1V573.3H302.8V572.7H303.4V571.6H304.1V571.6H304.7V570.1H305.4V570.3H306.1V569.4H306.7V569.1H307.4V569.4H308.0V569.5H308.7V567.9H309.4V567.5H310.0V567.2H310.7V567.7H311.3V567.0H312.0V567.5H312.7V567.7H313.3V567.0H314.0V566.2H314.6V566.7H315.3V565.7H316.0V565.1H316.6V567.0H317.3V567.6H317.9V567.4H318.6V566.6H319.3V565.0H319.9V566.7H320.6V567.7H321.2V567.3H321.9V568.4H322.6V567.2H323.2V567.7H323.9V567.4H324.5V567.3H325.2V566.1H325.9V566.7H326.5V566.8H327.2V566.2H327.8V565.5H328.5V565.8H329.2V564.9H329.8V564.7H330.5V564.0H331.1V562.5H331.8V561.5H332.5V559.2H333.1V556.4H333.8V551.7H334.4V550.3H335.1V548.1H335.8V543.8H336.4V541.2H337.1V535.1H337.7V532.8H338.4V528.7H339.1V525.6H339.7V521.4H340.4V520.2H341.0V509.5H341.7V508.0H342.4V505.2H343.0V502.5H343.7V497.6H344.3V493.8H345.0V487.5H345.7V482.7H346.3V478.2H347.0V477.0H347.6V466.8H348.3V463.7H349.0V451.5H349.6V429.7H350.3V431.6H350.9V431.9H351.6V429.3H352.3V429.3H352.9V432.7H353.6V429.3H354.2V431.7H354.9V431.3H355.6V429.3H356.2V431.3H356.9V431.1H357.5V432.4H358.2V430.1H358.9V431.0H359.5V430.8H360.2V429.8H360.8V433.0H361.5V431.8H362.2V432.8H362.8V430.8H363.5V432.2H364.1V429.3H364.8V429.3H365.5V431.9H366.1V429.8H366.8V429.5H367.4V430.4H368.1V429.3H368.8V430.5H369.4V431.0H370.1V429.6H370.7V429.3H371.4V433.2H372.1V430.9H372.7V429.3H373.4V429.3H374.0V431.2H374.7V439.2H375.4V447.1H376.0V458.1H376.7V469.5H377.3V479.2H378.0V487.1H378.7V498.0H379.3V503.0H380.0V505.9H380.6V511.6H381.3V518.4H382.0V524.1H382.6V529.3H383.3V531.2H383.9V535.3H384.6V543.9H385.3V546.3H385.9V551.0H386.6V553.4H387.2V555.6H387.9V561.0H388.6V563.6H389.2V566.5H389.9V567.9H390.5V569.0H391.2V571.5H391.9V573.9H392.5V574.5H393.2V575.8H393.8V577.1H394.5V577.4H395.2V578.7H395.8V579.3H396.5V579.6H397.1V579.7H397.8V579.9H398.5V580.4L398.5 580.4 L288.9 580.4Z" fill="#7e7e7e" stroke="#7e7e7e" stroke-width="0.6"/>
<path d="M278.9 574.2H279.6V570.1H280.2V566.3H280.9V560.9H281.6V552.3H282.2V544.1H282.9V536.7H283.5V528.3H284.2V519.9H284.9V511.6H285.5V502.2H286.2V490.8H286.8V479.4H287.5V467.0H288.2V452.6H288.8V432.0H289.5V429.3H290.1V430.4H290.8V431.7H291.5V431.1H292.1V431.6H292.8V432.6H293.4V431.7H294.1V431.4H294.8V430.8H295.4V429.9H296.1V429.8H296.7V430.3H297.4V430.5H298.1V431.6H298.7V433.0H299.4V432.3H300.0V431.5H300.7V430.6H301.4V429.3H302.0V429.3H302.7V430.5H303.3V431.6H304.0V433.3H304.7V432.4H305.3V431.6H306.0V432.2H306.6V433.0H307.3V443.1H308.0V453.1H308.6V461.6H309.3V468.4H309.9V473.5H310.6V482.3H311.3V492.5H311.9V501.0H312.6V507.9H313.2V513.3H313.9V517.4H314.6V521.6H315.2V525.7H315.9V528.4H316.5V532.6H317.2V535.8H317.9V538.0H318.5V542.3H319.2V545.7H319.8V546.8H320.5V549.5H321.2V552.3H321.8V554.0H322.5V556.1H323.1V558.1H323.8V559.3H324.5V560.1H325.1V561.2H325.8V562.2" fill="none" stroke="#111" stroke-width="1.30" stroke-dasharray="9 8"/>
<path d="M327.2 563.9H327.8V564.7H328.5V564.9H329.1V564.7H329.8V564.9H330.5V564.8H331.1V564.9H331.8V565.5H332.4V565.6H333.1V565.5H333.8V565.7H334.4V565.7H335.1V565.6H335.7V565.9H336.4V565.5H337.1V565.6H337.7V566.2H338.4V566.0H339.0V565.6H339.7V565.4H340.4V565.5H341.0V565.8H341.7V566.1H342.3V566.3H343.0V566.1H343.7V565.2H344.3V565.0H345.0V565.4H345.6V565.8H346.3V565.4H347.0V565.3H347.6V565.7H348.3V565.6H348.9V565.6H349.6V566.7H350.3V567.1H350.9V567.3H351.6V567.7H352.2V567.4H352.9V567.8H353.6V568.2H354.2V568.4H354.9V568.2H355.5V568.7H356.2V569.8H356.9V570.6H357.5V571.4H358.2V571.8H358.8V572.2H359.5V572.9H360.2V573.7H360.8V574.0H361.5V574.9H362.1V575.4H362.8V575.5H363.5V576.2H364.1V576.5H364.8V576.7H365.4V577.0H366.1V577.5H366.8V577.9H367.4V577.9H368.1V577.8H368.7V577.7H369.4V577.5H370.1V577.5H370.7V577.6H371.4V578.0H372.0V577.8H372.7V577.4H373.4V577.4H374.0V577.5H374.7V577.9H375.3V577.9H376.0V578.2H376.7V578.3H377.3V578.8H378.0V579.8H378.6V580.3" fill="none" stroke="#111" stroke-width="1.30" stroke-dasharray="4 4"/>
<path d="M272.3 579.3H272.9V580.4H273.6V578.4H274.2V578.5H274.9V578.1H275.6V578.2H276.2V576.3H276.9V578.8H277.5V578.0H278.2V577.0H278.9V576.6H279.5V577.1H280.2V576.7H280.8V575.8H281.5V575.8H282.2V576.0H282.8V575.1H283.5V574.9H284.1V574.6H284.8V574.4H285.5V573.3H286.1V573.2H286.8V573.9H287.4V573.9H288.1V572.7H288.8V568.8H289.4V570.3H290.1V571.8H290.7V572.7H291.4V571.8H292.1V569.8H292.7V569.2H293.4V568.7H294.0V570.8H294.7V568.6H295.4V566.7H296.0V568.5H296.7V567.9H297.3V563.7H298.0V565.0H298.7V566.6H299.3V566.0H300.0V562.5H300.6V563.7H301.3V564.4H302.0V563.1H302.6V560.6H303.3V561.3H303.9V562.0H304.6V561.3H305.3V558.6H305.9V563.2H306.6V559.4H307.2V556.2H307.9V557.6H308.6V553.1H309.2V556.0H309.9V556.5H310.5V560.2H311.2V556.6H311.9V557.1H312.5V557.9H313.2V557.2H313.8V556.0H314.5V559.4H315.2V558.2H315.8V560.0H316.5V559.3H317.1V556.3H317.8V557.3H318.5V557.6H319.1V557.8H319.8V559.4H320.4V558.6H321.1V557.9H321.8V561.6H322.4V561.4H323.1V558.6H323.7V556.1H324.4V556.1H325.1V555.1H325.7V554.2H326.4V553.3H327.0V554.7H327.7V552.9H328.4V551.0H329.0V546.1H329.7V546.4H330.3V547.7H331.0V541.9H331.7V538.3H332.3V543.1H333.0V535.5H333.6V531.1H334.3V532.5H335.0V526.4H335.6V525.1H336.3V526.4H336.9V520.0H337.6V516.1H338.3V520.6H338.9V519.7H339.6V512.3H340.2V513.8H340.9V516.5H341.6V512.8H342.2V513.2H342.9V509.7H343.5V507.3H344.2V506.6H344.9V506.5H345.5V507.0H346.2V497.7H346.8V499.1H347.5V503.9H348.2V505.0H348.8V500.1H349.5V501.3H350.1V497.1H350.8V495.3H351.5V499.1H352.1V497.5H352.8V495.8H353.4V493.0H354.1V497.0H354.8V496.2H355.4V495.3H356.1V497.0H356.7V497.6H357.4V501.6H358.1V502.5H358.7V508.0H359.4V509.0H360.0V507.0H360.7V506.0H361.4V513.6H362.0V512.4H362.7V520.0H363.3V513.7H364.0V518.3H364.7V525.2H365.3V522.9H366.0V526.5H366.6V528.1H367.3V526.8H368.0V531.4H368.6V528.6H369.3V531.2H369.9V538.2H370.6V534.2H371.3V536.8H371.9V534.9H372.6V541.8H373.2V538.7H373.9V540.9H374.6V543.0H375.2V544.1H375.9V544.9H376.5V548.9H377.2V550.3H377.9V552.8H378.5V553.0H379.2V555.0H379.8V557.7H380.5V560.0H381.2V560.4H381.8V563.4H382.5V564.5H383.1V567.3H383.8V567.8H384.5V568.7H385.1V570.4H385.8V569.6H386.4V572.8H387.1V572.6H387.8V572.7H388.4V574.2H389.1V573.7H389.7V576.8H390.4V576.2H391.1V575.4H391.7V576.4H392.4V577.5H393.0V577.8H393.7V579.0H394.4V579.7H395.0V580.2H395.7V580.1H396.3V579.2H397.0V580.4" fill="none" stroke="#111" stroke-width="1.50"/>
<path d="M242.3 564.8H243.0V577.5H243.6V579.1H244.3V579.3H245.0V578.8H245.6V580.4H246.3V580.2H246.9V579.7H247.6V578.2H248.3V577.3H248.9V578.6H249.6V578.7H250.2V578.6H250.9V577.2H251.6V577.8H252.2V579.1H252.9V580.0H253.5V579.0H254.2V579.3H254.9V579.5H255.5V579.5H256.2V580.4H256.8V578.6H257.5V579.8H258.2V578.0H258.8V580.4H259.5V580.4H260.1V580.4H260.8V579.6H261.5V579.3H262.1V578.0H262.8V579.8H263.4V580.4H264.1V576.2H264.8V580.4H265.4V578.5H266.1V580.0H266.7V578.5H267.4V579.2H268.1V580.4H268.7V579.2H269.4V580.4H270.0V579.4H270.7V580.2H271.4V578.7H272.0V578.8H272.7V578.8H273.3V579.6H274.0V580.4H274.7V578.6H275.3V576.9H276.0V577.4H276.6V576.3H277.3V578.3H278.0V577.5H278.6V576.0H279.3V576.6H279.9V577.9H280.6V577.1H281.3V575.7H281.9V577.0H282.6V576.3H283.2V574.9H283.9V575.4H284.6V577.1H285.2V573.3H285.9V575.4H286.5V573.7H287.2V574.3H287.9V573.7H288.5V573.3H289.2V572.3H289.8V572.0H290.5V572.5H291.2V571.7H291.8V568.4H292.5V570.7H293.1V571.5H293.8V570.4H294.5V568.9H295.1V565.1H295.8V568.5H296.4V568.2H297.1V569.1H297.8V564.4H298.4V565.2H299.1V564.1H299.7V564.1H300.4V560.9H301.1V562.7H301.7V562.3H302.4V561.8H303.0V565.1H303.7V560.0H304.4V559.7H305.0V562.3H305.7V558.1H306.3V561.2H307.0V558.9H307.7V556.0H308.3V555.4H309.0V556.9H309.6V555.7H310.3V555.9H311.0V553.9H311.6V556.2H312.3V552.8H312.9V553.5H313.6V554.4H314.3V552.2H314.9V554.6H315.6V555.0H316.2V552.4H316.9V551.9H317.6V559.2H318.2V556.5H318.9V557.4H319.5V557.0H320.2V562.5H320.9V559.3H321.5V556.7H322.2V562.1H322.8V559.8H323.5V563.2H324.2V562.8H324.8V566.1H325.5V565.2H326.1V564.3H326.8V568.2H327.5V571.0H328.1V565.8H328.8V569.0H329.4V568.2H330.1V568.8H330.8V566.5H331.4V567.4H332.1V571.5H332.7V569.5H333.4V568.3H334.1V571.8H334.7V570.8H335.4V569.9H336.0V567.1H336.7V568.5H337.4V570.7H338.0V564.7H338.7V565.0H339.3V566.0H340.0V568.7H340.7V567.2H341.3V567.3H342.0V566.5H342.6V565.8H343.3V567.1H344.0V571.0H344.6V564.5H345.3V565.5H345.9V561.4H346.6V564.9H347.3V561.1H347.9V560.4H348.6V558.1H349.2V556.4H349.9V556.0H350.6V554.0H351.2V552.3H351.9V558.9H352.5V554.4H353.2V554.4H353.9V551.9H354.5V545.6H355.2V548.1H355.8V544.2H356.5V543.1H357.2V543.7H357.8V542.7H358.5V540.7H359.1V539.1H359.8V536.1H360.5V535.3H361.1V537.5H361.8V538.9H362.4V533.7H363.1V527.4H363.8V527.8H364.4V528.0H365.1V526.5H365.7V525.6H366.4V523.9H367.1V519.1H367.7V514.4H368.4V507.3H369.0V515.2H369.7V511.3H370.4V503.1H371.0V504.5H371.7V500.5H372.3V498.1H373.0V505.3H373.7V494.0H374.3V504.1H375.0V490.6H375.6V485.8H376.3V487.6H377.0V496.6H377.6V483.3H378.3V484.9H378.9V470.3H379.6V482.2H380.3V471.3H380.9V476.4H381.6V482.8H382.2V474.2H382.9V478.2H383.6V472.8H384.2V471.5H384.9V474.2H385.5V479.3H386.2V475.5H386.9V476.1H387.5V472.7H388.2V470.3H388.8V480.0H389.5V479.6H390.2V482.7H390.8V487.3H391.5V487.2H392.1V480.6H392.8V488.5H393.5V491.2H394.1V491.5H394.8V485.4H395.4V494.6H396.1V501.6H396.8V509.0H397.4V508.6H398.1V508.4H398.7V522.9H399.4V521.6H400.1V524.1H400.7V531.5H401.4V535.9H402.0V537.3H402.7V539.1H403.4V542.5H404.0V549.6H404.7V550.4H405.3V553.7H406.0V549.5H406.7V554.7H407.3V553.6H408.0V548.6H408.6V540.4H409.3V541.2" fill="none" stroke="#0a0a0a" stroke-width="3.20" stroke-linejoin="round"/>

</g>
<path d="M241.8 435.3H409.4V583.4" fill="none" stroke="#222" stroke-width="1.4"/>
<path d="M241.8 435.3V583.4" fill="none" stroke="#222" stroke-width="1.4"/>
<path d="M241.3 580.4H409.9" fill="none" stroke="#1a1a1a" stroke-width="1.6"/>
<path d="M254.4 580.9v1.6M261.8 580.9v1.6M267.0 580.9v1.6M271.1 580.9v1.6M274.4 580.9v1.6M277.2 580.9v1.6M279.6 580.9v1.6M281.8 580.9v1.6M296.3 580.9v1.6M303.7 580.9v1.6M308.9 580.9v1.6M313.0 580.9v1.6M316.3 580.9v1.6M319.1 580.9v1.6M321.5 580.9v1.6M323.7 580.9v1.6M283.7 580.9v3M338.2 580.9v1.6M345.6 580.9v1.6M350.8 580.9v1.6M354.9 580.9v1.6M358.2 580.9v1.6M361.0 580.9v1.6M363.4 580.9v1.6M365.6 580.9v1.6M325.6 580.9v3M380.1 580.9v1.6M387.5 580.9v1.6M392.7 580.9v1.6M396.8 580.9v1.6M400.1 580.9v1.6M402.9 580.9v1.6M405.3 580.9v1.6M407.5 580.9v1.6M367.5 580.9v3" stroke="#555" stroke-width="0.6" fill="none"/>
<clipPath id="c30"><rect x="51.6" y="640.0" width="168.6" height="145.4"/></clipPath>
<g clip-path="url(#c30)">
<path d="M52.3 771.0H53.0V769.4H53.6V768.0H54.3V766.9H55.0V765.6H55.6V765.8H56.3V764.2H56.9V763.6H57.6V762.9H58.3V760.4H58.9V757.5H59.6V752.9H60.2V751.2H60.9V750.2H61.6V745.2H62.2V745.0H62.9V739.9H63.5V737.0H64.2V731.5H64.9V726.7H65.5V722.8H66.2V720.9H66.8V713.3H67.5V706.8H68.2V704.4H68.8V695.6H69.5V691.3H70.1V685.5H70.8V678.8H71.5V672.5H72.1V665.0H72.8V654.4H73.4V652.4H74.1V645.0H74.8V636.8H75.4V635.8H76.1V636.2H76.7V635.3H77.4V637.5H78.1V638.7H78.7V635.4H79.4V634.3H80.0V634.0H80.7V635.9H81.4V634.0H82.0V637.8H82.7V636.6H83.3V634.0H84.0V636.1H84.7V634.0H85.3V634.0H86.0V636.2H86.6V634.0H87.3V635.3H88.0V634.7H88.6V637.6H89.3V635.5H89.9V637.6H90.6V636.4H91.3V634.0H91.9V636.8H92.6V642.6H93.2V653.6H93.9V655.4H94.6V665.3H95.2V670.6H95.9V682.9H96.5V694.2H97.2V698.5H97.9V705.6H98.5V712.4H99.2V718.8H99.8V720.6H100.5V726.5H101.2V730.2H101.8V733.2H102.5V736.4H103.1V740.8H103.8V742.2H104.5V743.9H105.1V744.6H105.8V746.6H106.4V746.4H107.1V746.6H107.8V748.5H108.4V749.0H109.1V749.1H109.7V749.8H110.4V751.9H111.1V751.5H111.7V750.7H112.4V754.2H113.0V751.0H113.7V753.0H114.4V752.1H115.0V753.8H115.7V753.5H116.3V754.6H117.0V753.8H117.7V753.4H118.3V755.6H119.0V754.5H119.6V754.6H120.3V754.8H121.0V754.4H121.6V755.3H122.3V756.5H122.9V756.3H123.6V755.3H124.3V755.6H124.9V755.7H125.6V754.5H126.2V756.8H126.9V756.2H127.6V754.9H128.2V757.4H128.9V756.5H129.5V758.0H130.2V758.7H130.9V758.4H131.5V759.3H132.2V760.6H132.8V758.8H133.5V758.9H134.2V760.7H134.8V761.1H135.5V763.3H136.1V763.1H136.8V763.4H137.5V763.6H138.1V762.9H138.8V764.0H139.4V765.4H140.1V766.4H140.8V766.7H141.4V767.7H142.1V768.7H142.7V768.5H143.4V769.3H144.1V769.7H144.7V771.7H145.4V770.4H146.0V772.6H146.7V773.3H147.4V772.5H148.0V774.0H148.7V775.5H149.3V774.8H150.0V775.3H150.7V775.9H151.3V776.9H152.0V776.9H152.6V776.6H153.3V776.7H154.0V776.9H154.6V778.1H155.3V777.3H155.9V778.4H156.6V779.2H157.3V778.8H157.9V779.5H158.6V779.9H159.2V780.4H159.9V779.9H160.6V780.6H161.2V780.8H161.9V781.1H162.5V780.8H163.2V781.7H163.9V781.5H164.5V781.9H165.2V781.9H165.8V782.9H166.5V782.6H167.2V783.4H167.8V782.9H168.5V783.2H169.1V783.7H169.8V783.4H170.5V783.7H171.1V784.0H171.8V783.8H172.4V783.8H173.1V784.0H173.8V784.3H174.4V784.3H175.1V784.6H175.7V784.4H176.4V784.5H177.1V784.6L177.1 785.4 L52.3 785.4Z" fill="#7e7e7e" stroke="#7e7e7e" stroke-width="0.6"/>
<path d="M85.6 783.3H86.3V783.1H86.9V782.8H87.6V783.1H88.2V783.7H88.9V783.7H89.6V783.0H90.2V783.5H90.9V782.5H91.5V777.7H92.2V773.2H92.9V768.4H93.5V763.6H94.2V760.8H94.8V759.6H95.5V757.8H96.2V754.0H96.8V748.9H97.5V745.6H98.1V741.7H98.8V738.0H99.5V735.3H100.1V732.4H100.8V732.4H101.4V731.9H102.1V727.5H102.8V722.2H103.4V716.7H104.1V712.1H104.7V713.0H105.4V712.9H106.1V709.6H106.7V706.2H107.4V704.8H108.0V704.3H108.7V703.3H109.4V708.9H110.0V709.5H110.7V708.1H111.3V710.4H112.0V713.5H112.7V715.3H113.3V714.3H114.0V715.6H114.6V718.3H115.3V718.7H116.0V717.2H116.6V719.3H117.3V720.4H117.9V721.0H118.6V720.8H119.3V719.1H119.9V719.7H120.6V721.1H121.2V722.4H121.9V722.4H122.6V719.5H123.2V719.8H123.9V721.6H124.5V720.4H125.2V720.0H125.9V718.6H126.5V718.2H127.2V717.0H127.8V716.0H128.5V713.7H129.2V707.2H129.8V705.4H130.5V710.2H131.1V709.2H131.8V703.0H132.5V701.2H133.1V698.3H133.8V695.7H134.4V694.0H135.1V694.1H135.8V692.5H136.4V686.5H137.1V682.4H137.7V679.6H138.4V673.5H139.1V670.9H139.7V668.4H140.4V664.5H141.0V662.5H141.7V659.4H142.4V658.8H143.0V657.0H143.7V652.7H144.3V650.0H145.0V650.4H145.7V649.0H146.3V646.8H147.0V646.8H147.6V646.4H148.3V647.0H149.0V646.5H149.6V645.6H150.3V644.8H150.9V642.8H151.6V646.7H152.3V652.5H152.9V651.8H153.6V652.8H154.2V655.4H154.9V653.6H155.6V656.3H156.2V656.3H156.9V655.6H157.5V661.3H158.2V660.9H158.9V663.7H159.5V665.9H160.2V666.7H160.8V668.8H161.5V669.3H162.2V671.1H162.8V679.3H163.5V685.5H164.1V688.0H164.8V692.3H165.5V694.9H166.1V697.5H166.8V701.8H167.4V707.6H168.1V712.2H168.8V715.6H169.4V718.2H170.1V722.3H170.7V725.3H171.4V728.4H172.1V731.3H172.7V734.7H173.4V740.0H174.0V742.6H174.7V745.1H175.4V750.3H176.0V754.4H176.7V757.2H177.3V760.4H178.0V762.6H178.7V765.0H179.3V767.4H180.0V769.8H180.6V769.9H181.3V770.2H182.0V772.8H182.6V774.5H183.3V775.2H183.9V775.8H184.6V777.3H185.3V778.5H185.9V778.6H186.6V779.7H187.2V780.4H187.9V780.4H188.6V780.3H189.2V779.6H189.9V780.9H190.5V783.2H191.2V782.5H191.9V782.0H192.5V783.6H193.2V784.2H193.8V784.1H194.5V784.2H195.2V783.9H195.8V784.5H196.5V785.4" fill="none" stroke="#111" stroke-width="1.45" stroke-dasharray="5.5 3.8"/>
<path d="M52.6 780.7H53.3V778.3H53.9V778.2H54.6V779.0H55.2V777.6H55.9V775.3H56.6V776.0H57.2V774.7H57.9V772.4H58.5V772.6H59.2V769.2H59.9V768.7H60.5V770.5H61.2V771.5H61.8V767.0H62.5V769.7H63.2V767.2H63.8V769.1H64.5V764.7H65.1V769.6H65.8V764.5H66.5V762.4H67.1V762.5H67.8V757.9H68.4V761.3H69.1V759.3H69.8V760.2H70.4V757.9H71.1V752.3H71.7V751.8H72.4V754.9H73.1V752.0H73.7V755.0H74.4V749.2H75.0V751.0H75.7V748.0H76.4V750.7H77.0V745.9H77.7V744.9H78.3V740.5H79.0V742.7H79.7V742.1H80.3V738.7H81.0V739.1H81.6V732.6H82.3V733.0H83.0V732.9H83.6V729.0H84.3V731.6H84.9V728.2H85.6V722.8H86.3V720.1H86.9V721.1H87.6V717.2H88.2V716.8H88.9V713.4H89.6V718.4H90.2V715.4H90.9V714.7H91.5V715.4H92.2V704.1H92.9V710.6H93.5V708.5H94.2V710.5H94.8V708.7H95.5V710.8H96.2V715.7H96.8V707.9H97.5V712.6H98.1V721.1H98.8V723.1H99.5V717.5H100.1V724.3H100.8V724.3H101.4V718.3H102.1V721.4H102.8V725.0H103.4V725.2H104.1V732.1H104.7V730.2H105.4V732.5H106.1V729.6H106.7V729.7H107.4V733.1H108.0V740.1H108.7V742.9H109.4V737.6H110.0V741.2H110.7V737.4H111.3V748.6H112.0V744.5H112.7V751.5H113.3V754.4H114.0V750.8H114.6V753.9H115.3V759.3H116.0V762.6H116.6V760.4H117.3V760.4H117.9V763.9H118.6V766.4H119.3V763.3H119.9V764.8H120.6V769.0H121.2V768.3H121.9V767.7H122.6V769.7H123.2V770.9H123.9V772.1H124.5V771.6H125.2V771.6H125.9V769.8H126.5V773.3H127.2V773.7H127.8V773.8H128.5V774.1H129.2V774.7H129.8V776.2H130.5V775.0H131.1V774.6H131.8V777.5H132.5V776.4H133.1V776.8H133.8V777.8H134.4V777.4H135.1V777.8H135.8V777.0H136.4V779.7H137.1V777.4H137.7V780.2H138.4V778.0H139.1V778.8H139.7V779.3H140.4V780.8H141.0V780.5H141.7V780.1H142.4V779.6H143.0V782.0H143.7V781.4H144.3V782.0H145.0V781.7H145.7V781.6H146.3V782.8H147.0V782.5H147.6V783.4H148.3V782.6H149.0V781.2H149.6V783.4H150.3V782.8H150.9V782.6H151.6V779.9H152.3V782.2H152.9V783.2H153.6V782.6H154.2V783.5H154.9V783.9H155.6V783.4H156.2V782.6H156.9V784.1H157.5V784.1H158.2V783.6H158.9V782.1H159.5V782.8H160.2V784.9H160.8V783.9H161.5V782.6" fill="none" stroke="#111" stroke-width="1.90"/>
<path d="M52.6 775.1H53.3V774.3H53.9V774.1H54.6V772.7H55.2V771.5H55.9V768.5H56.6V765.8H57.2V766.4H57.9V768.8H58.5V762.5H59.2V765.7H59.9V759.8H60.5V758.8H61.2V760.4H61.8V757.1H62.5V757.1H63.2V753.7H63.8V755.3H64.5V755.6H65.1V748.8H65.8V752.3H66.5V750.5H67.1V750.2H67.8V741.0H68.4V747.8H69.1V741.1H69.8V742.1H70.4V740.2H71.1V737.3H71.7V736.4H72.4V735.4H73.1V736.7H73.7V737.0H74.4V732.6H75.0V734.3H75.7V730.8H76.4V732.3H77.0V723.0H77.7V726.1H78.3V723.9H79.0V722.3H79.7V720.5H80.3V719.5H81.0V714.7H81.6V713.0H82.3V706.7H83.0V703.7H83.6V697.8H84.3V700.2H84.9V695.0H85.6V692.9H86.3V681.5H86.9V681.0H87.6V690.5H88.2V683.0H88.9V670.6H89.6V678.0H90.2V674.4H90.9V669.4H91.5V667.7H92.2V666.8H92.9V670.2H93.5V671.2H94.2V671.5H94.8V674.2H95.5V671.0H96.2V676.8H96.8V678.6H97.5V676.6H98.1V678.8H98.8V686.0H99.5V686.0H100.1V697.9H100.8V682.9H101.4V687.6H102.1V695.7H102.8V704.4H103.4V708.3H104.1V706.5H104.7V711.0H105.4V712.9H106.1V719.0H106.7V727.5H107.4V717.1H108.0V734.5H108.7V733.4H109.4V731.8H110.0V736.7H110.7V737.8H111.3V741.7H112.0V744.3H112.7V747.6H113.3V745.6H114.0V752.1H114.6V751.7H115.3V755.1H116.0V759.9H116.6V758.4H117.3V761.1H117.9V762.3H118.6V763.0H119.3V761.6H119.9V766.0H120.6V766.5H121.2V771.0H121.9V765.9H122.6V770.2H123.2V768.4H123.9V769.2H124.5V773.1H125.2V770.8H125.9V772.9H126.5V772.6H127.2V771.7H127.8V773.4H128.5V773.6H129.2V774.5H129.8V777.7H130.5V776.4H131.1V774.2H131.8V779.2H132.5V777.9H133.1V779.0H133.8V780.2H134.4V778.2H135.1V779.9H135.8V780.0H136.4V780.3H137.1V780.5H137.7V781.0H138.4V782.2H139.1V781.9H139.7V781.5H140.4V782.6H141.0V779.0H141.7V781.6H142.4V782.0H143.0V782.1H143.7V783.3H144.3V782.1H145.0V783.5H145.7V782.0H146.3V783.0H147.0V782.5H147.6V782.2H148.3V783.1H149.0V783.3H149.6V781.9H150.3V783.9H150.9V782.7H151.6V783.2H152.3V780.4H152.9V783.3H153.6V781.4H154.2V784.4H154.9V782.8H155.6V783.3H156.2V783.6H156.9V782.5H157.5V783.9H158.2V782.7H158.9V783.8H159.5V784.9H160.2V785.4H160.8V785.4H161.5V783.9H162.2V783.2H162.8V784.8H163.5V785.4H164.1V783.5H164.8V785.4H165.5V784.3H166.1V781.8H166.8V784.6H167.4V785.4H168.1V785.4H168.8V785.4" fill="none" stroke="#0a0a0a" stroke-width="2.50" stroke-linejoin="round"/>

</g>
<path d="M51.6 640.0H220.2V788.4" fill="none" stroke="#222" stroke-width="1.4"/>
<path d="M51.6 640.0V788.4" fill="none" stroke="#222" stroke-width="1.4"/>
<path d="M51.1 785.4H220.7" fill="none" stroke="#1a1a1a" stroke-width="1.6"/>
<path d="M64.3 785.9v1.6M71.7 785.9v1.6M77.0 785.9v1.6M81.1 785.9v1.6M84.4 785.9v1.6M87.2 785.9v1.6M89.7 785.9v1.6M91.8 785.9v1.6M106.4 785.9v1.6M113.9 785.9v1.6M119.1 785.9v1.6M123.2 785.9v1.6M126.5 785.9v1.6M129.4 785.9v1.6M131.8 785.9v1.6M134.0 785.9v1.6M93.8 785.9v3M148.6 785.9v1.6M156.0 785.9v1.6M161.3 785.9v1.6M165.4 785.9v1.6M168.7 785.9v1.6M171.5 785.9v1.6M174.0 785.9v1.6M176.1 785.9v1.6M135.9 785.9v3M190.7 785.9v1.6M198.2 785.9v1.6M203.4 785.9v1.6M207.5 785.9v1.6M210.8 785.9v1.6M213.7 785.9v1.6M216.1 785.9v1.6M218.3 785.9v1.6M178.0 785.9v3" stroke="#555" stroke-width="0.6" fill="none"/>
<clipPath id="c31"><rect x="242.3" y="640.0" width="168.4" height="145.4"/></clipPath>
<g clip-path="url(#c31)">
<path d="M242.3 770.3H243.0V768.1H243.6V766.8H244.3V766.7H245.0V766.3H245.6V765.0H246.3V764.2H246.9V764.5H247.6V763.4H248.3V758.3H248.9V756.1H249.6V754.3H250.2V751.5H250.9V746.8H251.6V749.3H252.2V744.5H252.9V740.4H253.5V733.9H254.2V732.4H254.9V726.7H255.5V724.8H256.2V719.5H256.8V713.9H257.5V709.1H258.2V702.4H258.8V698.2H259.5V687.9H260.1V686.2H260.8V678.1H261.5V676.1H262.1V665.4H262.8V654.6H263.4V654.7H264.1V643.9H264.8V635.3H265.4V634.9H266.1V637.2H266.7V638.3H267.4V634.3H268.1V635.4H268.7V635.4H269.4V634.0H270.0V634.1H270.7V634.8H271.4V634.9H272.0V636.8H272.7V634.0H273.3V635.8H274.0V635.6H274.7V637.4H275.3V634.3H276.0V634.4H276.6V635.2H277.3V634.0H278.0V634.0H278.6V634.0H279.3V634.0H279.9V634.0H280.6V634.0H281.3V634.0H281.9V637.6H282.6V643.9H283.2V655.2H283.9V660.7H284.6V666.7H285.2V672.9H285.9V684.9H286.5V692.8H287.2V699.7H287.9V706.6H288.5V712.9H289.2V719.8H289.8V721.5H290.5V725.6H291.2V730.6H291.8V734.1H292.5V738.2H293.1V740.5H293.8V743.0H294.5V744.5H295.1V745.2H295.8V746.8H296.4V747.3H297.1V749.4H297.8V748.8H298.4V748.8H299.1V749.3H299.7V751.7H300.4V750.8H301.1V749.5H301.7V752.8H302.4V752.7H303.0V753.3H303.7V753.7H304.4V753.5H305.0V753.6H305.7V753.5H306.3V753.0H307.0V752.1H307.7V752.4H308.3V754.7H309.0V755.3H309.6V754.8H310.3V754.4H311.0V755.7H311.6V755.1H312.3V755.1H312.9V754.8H313.6V754.1H314.3V754.2H314.9V755.4H315.6V756.6H316.2V757.1H316.9V755.9H317.6V756.9H318.2V756.8H318.9V757.5H319.5V758.1H320.2V759.0H320.9V757.7H321.5V760.6H322.2V759.5H322.8V759.2H323.5V762.3H324.2V760.2H324.8V761.3H325.5V761.2H326.1V763.3H326.8V761.1H327.5V764.0H328.1V763.2H328.8V766.2H329.4V767.2H330.1V767.0H330.8V766.5H331.4V768.5H332.1V769.8H332.7V769.2H333.4V769.4H334.1V771.2H334.7V770.2H335.4V771.5H336.0V772.3H336.7V773.0H337.4V774.2H338.0V774.2H338.7V774.4H339.3V774.6H340.0V775.6H340.7V776.2H341.3V776.8H342.0V777.0H342.6V776.4H343.3V777.6H344.0V777.4H344.6V778.5H345.3V778.2H345.9V778.5H346.6V778.7H347.3V779.7H347.9V779.6H348.6V781.0H349.2V780.6H349.9V780.0H350.6V780.6H351.2V781.2H351.9V781.4H352.5V781.5H353.2V781.6H353.9V781.3H354.5V781.5H355.2V782.4H355.8V782.2H356.5V782.6H357.2V783.0H357.8V782.6H358.5V782.9H359.1V783.6H359.8V783.4H360.5V783.6H361.1V784.0H361.8V783.8H362.4V784.0H363.1V784.1H363.8V783.9H364.4V784.6H365.1V784.5H365.7V784.4H366.4V784.8H367.1V784.6L367.1 785.4 L242.3 785.4Z" fill="#7e7e7e" stroke="#7e7e7e" stroke-width="0.6"/>
<path d="M275.6 783.1H276.3V783.3H276.9V783.4H277.6V783.4H278.2V783.4H278.9V783.8H279.6V783.8H280.2V783.7H280.9V781.8H281.5V777.1H282.2V772.1H282.9V768.8H283.5V765.3H284.2V761.4H284.8V758.9H285.5V755.2H286.2V751.9H286.8V749.4H287.5V745.4H288.1V742.1H288.8V741.2H289.5V738.8H290.1V736.0H290.8V731.9H291.4V727.7H292.1V727.0H292.8V724.5H293.4V719.4H294.1V716.8H294.7V712.4H295.4V708.4H296.1V707.6H296.7V705.2H297.4V704.2H298.0V705.3H298.7V705.9H299.4V705.7H300.0V706.1H300.7V708.8H301.3V711.2H302.0V713.6H302.7V714.6H303.3V716.1H304.0V720.0H304.6V720.5H305.3V718.4H306.0V721.1H306.6V724.7H307.3V723.3H307.9V722.4H308.6V719.5H309.3V718.6H309.9V720.6H310.6V722.9H311.2V723.9H311.9V723.9H312.6V723.8H313.2V721.8H313.9V721.0H314.5V718.8H315.2V717.6H315.9V719.2H316.5V716.9H317.2V714.4H317.8V716.4H318.5V715.3H319.2V713.0H319.8V711.1H320.5V709.1H321.1V704.2H321.8V703.3H322.5V703.9H323.1V698.5H323.8V695.1H324.4V693.1H325.1V692.0H325.8V687.2H326.4V681.0H327.1V677.3H327.7V677.3H328.4V674.5H329.1V669.9H329.7V666.3H330.4V662.7H331.0V660.4H331.7V656.0H332.4V656.0H333.0V656.1H333.7V651.5H334.3V653.9H335.0V652.6H335.7V645.7H336.3V643.8H337.0V647.8H337.6V650.4H338.3V647.9H339.0V649.1H339.6V648.4H340.3V647.6H340.9V651.0H341.6V651.6H342.3V651.7H342.9V653.0H343.6V653.2H344.2V656.5H344.9V658.6H345.6V658.0H346.2V655.4H346.9V654.8H347.5V658.1H348.2V660.8H348.9V663.8H349.5V665.5H350.2V666.0H350.8V667.7H351.5V669.9H352.2V672.5H352.8V674.6H353.5V680.4H354.1V690.6H354.8V694.5H355.5V694.9H356.1V695.9H356.8V700.5H357.4V707.6H358.1V712.0H358.8V711.7H359.4V711.3H360.1V718.1H360.7V728.7H361.4V730.6H362.1V731.3H362.7V737.0H363.4V741.3H364.0V745.4H364.7V746.9H365.4V749.3H366.0V752.8H366.7V756.1H367.3V759.6H368.0V762.4H368.7V763.9H369.3V765.1H370.0V767.7H370.6V769.3H371.3V770.5H372.0V771.3H372.6V772.6H373.3V773.6H373.9V775.6H374.6V777.2H375.3V777.4H375.9V778.7H376.6V779.0H377.2V779.5H377.9V780.5H378.6V781.5H379.2V782.3H379.9V781.7H380.5V782.3H381.2V783.1H381.9V783.5H382.5V782.5H383.2V782.3H383.8V783.6H384.5V784.5H385.2V784.3H385.8V784.1H386.5V784.6" fill="none" stroke="#111" stroke-width="1.45" stroke-dasharray="5.5 3.8"/>
<path d="M242.6 780.2H243.3V779.2H243.9V778.8H244.6V778.5H245.2V778.3H245.9V778.1H246.6V777.4H247.2V775.6H247.9V776.5H248.5V776.5H249.2V777.7H249.9V774.5H250.5V777.0H251.2V774.3H251.8V776.4H252.5V771.9H253.2V773.7H253.8V770.9H254.5V771.6H255.1V772.5H255.8V773.3H256.5V771.4H257.1V772.4H257.8V770.3H258.4V772.6H259.1V768.7H259.8V771.4H260.4V770.3H261.1V765.3H261.7V766.6H262.4V764.1H263.1V765.9H263.7V762.8H264.4V764.1H265.0V759.4H265.7V757.9H266.4V755.7H267.0V756.1H267.7V755.3H268.3V753.1H269.0V752.0H269.7V751.4H270.3V748.1H271.0V745.3H271.6V742.9H272.3V742.2H273.0V741.1H273.6V742.6H274.3V740.8H274.9V735.2H275.6V736.8H276.3V731.5H276.9V734.0H277.6V725.9H278.2V730.8H278.9V725.9H279.6V725.3H280.2V722.5H280.9V718.1H281.5V719.8H282.2V718.0H282.9V718.6H283.5V716.6H284.2V716.9H284.8V713.5H285.5V706.9H286.2V713.0H286.8V710.6H287.5V715.5H288.1V720.1H288.8V719.7H289.5V722.9H290.1V728.2H290.8V725.5H291.4V726.3H292.1V726.6H292.8V737.7H293.4V729.7H294.1V731.5H294.7V732.0H295.4V735.2H296.1V731.5H296.7V731.1H297.4V733.1H298.0V733.2H298.7V732.7H299.4V732.7H300.0V738.4H300.7V738.3H301.3V743.7H302.0V741.2H302.7V743.9H303.3V749.7H304.0V746.0H304.6V753.4H305.3V752.5H306.0V754.1H306.6V759.0H307.3V760.6H307.9V760.7H308.6V764.5H309.3V767.7H309.9V767.7H310.6V767.8H311.2V768.0H311.9V769.8H312.6V771.7H313.2V771.3H313.9V772.7H314.5V773.8H315.2V771.3H315.9V773.8H316.5V774.7H317.2V774.3H317.8V774.4H318.5V777.2H319.2V776.0H319.8V776.5H320.5V776.4H321.1V777.1H321.8V777.5H322.5V778.1H323.1V777.3H323.8V777.6H324.4V778.9H325.1V779.5H325.8V779.7H326.4V781.3H327.1V780.8H327.7V781.5H328.4V781.2H329.1V779.1H329.7V781.6H330.4V782.5H331.0V781.5H331.7V781.4H332.4V780.5H333.0V781.8H333.7V780.8H334.3V780.3H335.0V782.1H335.7V782.7H336.3V781.9H337.0V782.0H337.6V781.7H338.3V783.8H339.0V782.8H339.6V782.3H340.3V782.4H340.9V782.9H341.6V783.8H342.3V782.5H342.9V782.3H343.6V783.4H344.2V783.1H344.9V782.0H345.6V783.3H346.2V783.2H346.9V783.3H347.5V783.8H348.2V784.0H348.9V785.4H349.5V784.5H350.2V784.8H350.8V783.8H351.5V784.3" fill="none" stroke="#111" stroke-width="1.40"/>
<path d="M242.6 779.9H243.3V779.6H243.9V781.0H244.6V782.2H245.2V780.2H245.9V779.6H246.6V779.4H247.2V779.4H247.9V778.1H248.5V777.8H249.2V778.3H249.9V779.3H250.5V777.0H251.2V774.5H251.8V777.3H252.5V776.3H253.2V774.6H253.8V774.2H254.5V770.6H255.1V773.6H255.8V774.1H256.5V774.8H257.1V773.7H257.8V771.9H258.4V772.5H259.1V772.8H259.8V773.3H260.4V772.5H261.1V773.1H261.7V768.2H262.4V771.4H263.1V771.2H263.7V768.7H264.4V770.3H265.0V768.1H265.7V765.9H266.4V764.9H267.0V767.4H267.7V766.6H268.3V766.8H269.0V765.3H269.7V763.9H270.3V759.8H271.0V760.7H271.6V759.7H272.3V763.9H273.0V756.6H273.6V754.7H274.3V754.5H274.9V758.3H275.6V753.3H276.3V755.5H276.9V751.4H277.6V754.2H278.2V746.5H278.9V748.3H279.6V750.0H280.2V746.7H280.9V743.8H281.5V749.2H282.2V740.2H282.9V740.6H283.5V745.4H284.2V746.3H284.8V740.6H285.5V736.1H286.2V735.3H286.8V735.7H287.5V737.3H288.1V740.6H288.8V738.3H289.5V737.4H290.1V731.8H290.8V734.7H291.4V733.8H292.1V732.9H292.8V729.0H293.4V726.7H294.1V730.7H294.7V731.2H295.4V724.5H296.1V726.7H296.7V729.5H297.4V731.3H298.0V732.4H298.7V726.9H299.4V732.6H300.0V726.8H300.7V725.9H301.3V733.8H302.0V738.6H302.7V735.5H303.3V742.0H304.0V745.3H304.6V747.3H305.3V750.7H306.0V755.3H306.6V754.4H307.3V756.1H307.9V760.5H308.6V763.7H309.3V762.6H309.9V767.6H310.6V767.6H311.2V766.8H311.9V768.8H312.6V768.8H313.2V771.9H313.9V771.6H314.5V775.3H315.2V768.7H315.9V771.6H316.5V773.3H317.2V775.5H317.8V774.9H318.5V774.8H319.2V776.8H319.8V776.1H320.5V777.3H321.1V778.5H321.8V779.0H322.5V776.4H323.1V777.8H323.8V779.5H324.4V779.3H325.1V779.0H325.8V780.9H326.4V780.8H327.1V781.3H327.7V781.9H328.4V780.6H329.1V782.3H329.7V781.5H330.4V781.7H331.0V782.7H331.7V779.9H332.4V779.9H333.0V780.6H333.7V782.9H334.3V782.2H335.0V781.6H335.7V781.2H336.3V780.6H337.0V782.9H337.6V782.7H338.3V783.2H339.0V783.9H339.6V783.3H340.3V784.6H340.9V782.8H341.6V785.0H342.3V784.0H342.9V783.0H343.6V783.9H344.2V785.4H344.9V782.6H345.6V783.4H346.2V783.6H346.9V784.3H347.5V784.2H348.2V785.4H348.9V784.0H349.5V785.0H350.2V783.7H350.8V783.1H351.5V784.2H352.2V784.1H352.8V785.2H353.5V785.4H354.1V784.0H354.8V785.4H355.5V783.4H356.1V785.4H356.8V783.0H357.4V784.1H358.1V784.9H358.8V784.3" fill="none" stroke="#0a0a0a" stroke-width="2.80" stroke-linejoin="round"/>

</g>
<path d="M242.3 640.0H410.7V788.4" fill="none" stroke="#222" stroke-width="1.4"/>
<path d="M242.3 640.0V788.4" fill="none" stroke="#222" stroke-width="1.4"/>
<path d="M241.8 785.4H411.2" fill="none" stroke="#1a1a1a" stroke-width="1.6"/>
<path d="M255.0 785.9v1.6M262.4 785.9v1.6M267.6 785.9v1.6M271.7 785.9v1.6M275.1 785.9v1.6M277.9 785.9v1.6M280.3 785.9v1.6M282.5 785.9v1.6M297.1 785.9v1.6M304.5 785.9v1.6M309.7 785.9v1.6M313.8 785.9v1.6M317.2 785.9v1.6M320.0 785.9v1.6M322.4 785.9v1.6M324.6 785.9v1.6M284.4 785.9v3M339.2 785.9v1.6M346.6 785.9v1.6M351.8 785.9v1.6M355.9 785.9v1.6M359.3 785.9v1.6M362.1 785.9v1.6M364.5 785.9v1.6M366.7 785.9v1.6M326.5 785.9v3M381.3 785.9v1.6M388.7 785.9v1.6M393.9 785.9v1.6M398.0 785.9v1.6M401.4 785.9v1.6M404.2 785.9v1.6M406.6 785.9v1.6M408.8 785.9v1.6M368.6 785.9v3" stroke="#555" stroke-width="0.6" fill="none"/>
<clipPath id="c40"><rect x="53.0" y="844.3" width="169.0" height="145.3"/></clipPath>
<g clip-path="url(#c40)">
<path d="M63.3 987.5H64.0V987.5H64.6V986.8H65.3V987.0H65.9V986.0H66.6V986.4H67.3V986.0H67.9V985.6H68.6V985.4H69.2V984.7H69.9V984.4H70.6V984.0H71.2V982.3H71.9V981.7H72.5V980.8H73.2V979.9H73.9V979.0H74.5V977.0H75.2V976.7H75.8V974.2H76.5V972.2H77.2V969.2H77.8V965.5H78.5V962.4H79.1V957.2H79.8V953.0H80.5V948.1H81.1V945.2H81.8V938.6H82.4V929.7H83.1V919.3H83.8V912.3H84.4V906.6H85.1V898.1H85.7V893.5H86.4V886.7H87.1V876.6H87.7V869.9H88.4V859.6H89.0V854.4H89.7V843.0H90.4V841.1H91.0V838.9H91.7V838.3H92.3V839.1H93.0V841.6H93.7V842.0H94.3V840.6H95.0V839.3H95.6V840.0H96.3V841.1H97.0V838.3H97.6V840.8H98.3V838.3H98.9V839.7H99.6V840.5H100.3V839.8H100.9V839.5H101.6V841.4H102.2V838.7H102.9V838.7H103.6V838.3H104.2V839.6H104.9V840.6H105.5V839.1H106.2V838.3H106.9V840.1H107.5V840.4H108.2V838.3H108.8V838.9H109.5V839.4H110.2V842.9H110.8V855.8H111.5V866.7H112.1V877.8H112.8V888.7H113.5V904.2H114.1V919.2H114.8V930.7H115.4V937.4H116.1V944.5H116.8V953.3H117.4V955.9H118.1V959.6H118.7V963.3H119.4V965.5H120.1V968.1H120.7V969.5H121.4V972.1H122.0V973.4H122.7V976.6H123.4V977.5H124.0V979.1H124.7V978.7H125.3V979.8H126.0V979.9H126.7V981.3H127.3V981.2H128.0V982.7H128.6V982.8H129.3V982.0H130.0V982.4H130.6V983.3H131.3V983.4H131.9V984.4H132.6V983.5H133.3V983.9H133.9V984.2H134.6V984.5H135.2V985.2H135.9V984.8H136.6V984.5H137.2V985.7H137.9V985.4H138.5V984.9H139.2V985.3H139.9V985.5H140.5V985.7H141.2V986.0H141.8V985.8H142.5V985.8H143.2V985.8H143.8V986.1H144.5V986.3H145.1V986.5H145.8V985.9H146.5V986.3H147.1V986.8H147.8V987.2H148.4V987.1H149.1V986.4H149.8V986.6H150.4V987.2H151.1V987.2H151.7V987.2H152.4V987.7H153.1V987.1H153.7V987.6H154.4V987.4H155.0V987.3H155.7V987.1H156.4V987.3H157.0V988.0H157.7V987.7H158.3V987.9H159.0V987.9H159.7V987.8H160.3V988.1H161.0V988.0H161.6V988.0H162.3V988.0H163.0V988.0H163.6V988.2H164.3V988.2H164.9V988.5H165.6V988.3H166.3V988.2L166.3 989.6 L63.3 989.6Z" fill="#7e7e7e" stroke="#7e7e7e" stroke-width="0.6"/>
<path d="M86.6 985.9H87.3V983.5H87.9V979.7H88.6V977.9H89.2V976.4H89.9V974.2H90.6V968.4H91.2V961.9H91.9V954.6H92.5V945.9H93.2V938.8H93.9V929.8H94.5V920.7H95.2V910.6H95.8V898.9H96.5V888.1H97.2V879.7H97.8V870.6H98.5V857.9H99.1V847.6H99.8V841.0H100.5V839.6H101.1V838.3H101.8V838.3H102.4V839.8H103.1V840.7H103.8V839.2H104.4V839.0H105.1V838.3H105.7V838.3H106.4V838.3H107.1V839.0H107.7V839.7H108.4V841.8H109.0V842.5H109.7V839.9H110.4V838.3H111.0V838.3H111.7V838.8H112.3V839.7H113.0V839.8H113.7V839.8H114.3V839.1H115.0V839.0H115.6V838.8H116.3V840.7H117.0V841.3H117.6V840.9H118.3V849.5H118.9V862.2H119.6V874.6H120.3V884.6H120.9V891.5H121.6V899.5H122.2V908.6H122.9V913.2H123.6V919.6H124.2V926.4H124.9V930.3H125.5V932.8H126.2V936.1H126.9V938.5H127.5V942.2H128.2V945.1H128.8V945.6H129.5V947.1H130.2V950.2H130.8V953.0H131.5V955.9H132.1V956.3H132.8V958.4H133.5V962.7H134.1V963.3H134.8V964.8H135.4V966.1H136.1V966.7" fill="none" stroke="#111" stroke-width="1.30" stroke-dasharray="8 6"/>
<path d="M137.2 969.1H137.8V969.3H138.5V970.0H139.1V970.8H139.8V972.5H140.5V973.9H141.1V974.3H141.8V974.2H142.4V974.3H143.1V973.8H143.8V974.8H144.4V975.7H145.1V975.7H145.7V976.0H146.4V974.9H147.1V974.3H147.7V975.4H148.4V976.2H149.0V976.3H149.7V976.0H150.4V976.2H151.0V975.7H151.7V975.2H152.3V975.1H153.0V975.7H153.7V976.4H154.3V976.3H155.0V976.0H155.6V974.4H156.3V974.2H157.0V975.4H157.6V975.8H158.3V976.2H158.9V976.7H159.6V976.0H160.3V975.9H160.9V975.5H161.6V975.6H162.2V975.6H162.9V975.6H163.6V975.7H164.2V975.8H164.9V977.7H165.5V977.5H166.2V977.3H166.9V978.0H167.5V976.6H168.2V975.4H168.8V977.3H169.5V978.4H170.2V978.9H170.8V981.0H171.5V982.5H172.1V982.4H172.8V982.1H173.5V982.5H174.1V983.0H174.8V982.9H175.4V983.6H176.1V983.1H176.8V983.3H177.4V984.0H178.1V984.1H178.7V984.3H179.4V983.8H180.1V983.8H180.7V984.3H181.4V984.8H182.0V986.0H182.7V986.7H183.4V985.7H184.0V984.7H184.7V984.8H185.3V985.5H186.0V985.0H186.7V984.8H187.3V986.0H188.0V985.9H188.6V984.9H189.3V985.4H190.0V986.6H190.6V986.3H191.3V985.9H191.9V986.5H192.6V986.7H193.3V986.1H193.9V985.8H194.6V986.1H195.2V986.3H195.9V986.8H196.6V986.5H197.2V986.3H197.9V986.7H198.5V985.8H199.2V986.2H199.9V987.1H200.5V986.4H201.2V985.8H201.8V986.7H202.5V988.0H203.2V987.8H203.8V987.1H204.5V987.4H205.1V987.3H205.8V986.9H206.5V987.6H207.1V987.4H207.8V987.6H208.4V988.2H209.1V988.3H209.8V987.6H210.4V987.6H211.1V988.3H211.7V988.1H212.4V987.8H213.1V987.3H213.7V988.0H214.4V988.6H215.0V988.4H215.7V988.6H216.4V988.6H217.0V987.8H217.7V987.5H218.3V988.0H219.0V988.9H219.7V989.6H220.3V988.5H221.0V987.5" fill="none" stroke="#111" stroke-width="1.30" stroke-dasharray="4 3"/>
<path d="M53.5 983.8H54.2V980.6H54.8V982.8H55.5V980.6H56.1V981.2H56.8V979.4H57.5V977.9H58.1V976.8H58.8V978.8H59.4V972.2H60.1V977.1H60.8V975.8H61.4V973.1H62.1V974.3H62.7V972.2H63.4V969.6H64.1V970.3H64.7V970.8H65.4V969.2H66.0V967.0H66.7V968.5H67.4V967.4H68.0V966.9H68.7V963.8H69.3V964.9H70.0V959.4H70.7V958.6H71.3V955.3H72.0V956.4H72.6V954.9H73.3V953.0H74.0V948.4H74.6V951.8H75.3V943.8H75.9V943.8H76.6V937.1H77.3V944.3H77.9V941.3H78.6V936.2H79.2V935.1H79.9V928.3H80.6V925.7H81.2V923.0H81.9V923.7H82.5V918.7H83.2V915.9H83.9V907.4H84.5V901.0H85.2V900.3H85.8V893.2H86.5V887.2H87.2V876.6H87.8V873.4H88.5V859.6H89.1V854.7H89.8V853.0H90.5V840.8H91.1V838.3H91.8V838.3H92.4V845.7H93.1V838.3H93.8V840.5H94.4V838.7H95.1V848.7H95.7V839.0H96.4V843.4H97.1V843.0H97.7V841.1H98.4V839.5H99.0V838.3H99.7V841.6H100.4V847.9H101.0V841.5H101.7V847.3H102.3V842.3H103.0V843.0H103.7V838.3H104.3V840.5H105.0V855.0H105.6V870.5H106.3V875.6H107.0V887.3H107.6V901.9H108.3V911.5H108.9V920.0H109.6V930.3H110.3V929.7H110.9V941.4H111.6V943.2H112.2V946.2H112.9V946.8H113.6V958.1H114.2V961.8H114.9V962.4H115.5V965.7H116.2V967.4H116.9V967.0H117.5V970.9H118.2V972.0H118.8V974.2H119.5V977.0H120.2V978.3H120.8V980.4H121.5V982.1H122.1V981.3H122.8V983.2H123.5V983.0H124.1V983.4H124.8V984.3H125.4V983.7H126.1V984.8H126.8V984.4H127.4V984.4H128.1V984.8H128.7V987.1H129.4V986.3H130.1V985.9H130.7V986.6H131.4V985.8H132.0V986.1H132.7V986.2H133.4V985.1H134.0V986.5H134.7V987.1H135.3V987.0H136.0V986.6H136.7V987.8H137.3V986.1H138.0V987.9H138.6V987.8H139.3V987.2H140.0V988.4H140.6V986.4H141.3V987.4H141.9V987.0H142.6V986.5H143.3V987.0H143.9V987.7H144.6V987.7H145.2V988.0H145.9V986.9H146.6V987.4H147.2V987.4H147.9V987.0H148.5V987.6H149.2V985.8" fill="none" stroke="#111" stroke-width="1.90"/>
<path d="M53.5 983.6H54.2V983.9H54.8V983.6H55.5V984.2H56.1V982.8H56.8V984.5H57.5V981.1H58.1V984.0H58.8V980.9H59.4V980.3H60.1V980.3H60.8V980.1H61.4V980.1H62.1V979.5H62.7V980.2H63.4V980.2H64.1V976.9H64.7V978.8H65.4V976.5H66.0V975.1H66.7V975.3H67.4V973.0H68.0V974.3H68.7V969.1H69.3V972.0H70.0V968.2H70.7V968.8H71.3V965.3H72.0V967.7H72.6V963.9H73.3V963.2H74.0V958.2H74.6V955.8H75.3V957.6H75.9V958.4H76.6V953.5H77.3V947.9H77.9V953.1H78.6V945.7H79.2V946.1H79.9V939.6H80.6V937.1H81.2V937.1H81.9V926.6H82.5V928.5H83.2V927.6H83.9V925.1H84.5V917.9H85.2V920.7H85.8V911.2H86.5V906.0H87.2V894.8H87.8V896.3H88.5V895.6H89.1V893.1H89.8V888.9H90.5V883.6H91.1V881.6H91.8V881.7H92.4V882.2H93.1V877.9H93.8V877.3H94.4V878.9H95.1V875.8H95.7V875.0H96.4V870.9H97.1V863.2H97.7V870.8H98.4V872.3H99.0V870.9H99.7V872.8H100.4V875.5H101.0V875.9H101.7V875.2H102.3V881.0H103.0V880.3H103.7V879.4H104.3V890.4H105.0V887.4H105.6V893.8H106.3V892.8H107.0V899.0H107.6V904.8H108.3V917.7H108.9V923.7H109.6V926.8H110.3V932.0H110.9V938.9H111.6V940.6H112.2V946.8H112.9V953.4H113.6V952.7H114.2V959.2H114.9V961.0H115.5V964.4H116.2V966.1H116.9V970.1H117.5V972.3H118.2V974.1H118.8V973.0H119.5V976.7H120.2V979.3H120.8V978.0H121.5V978.8H122.1V981.3H122.8V982.8H123.5V981.3H124.1V983.4H124.8V983.4H125.4V984.1H126.1V985.0H126.8V985.0H127.4V984.9H128.1V985.7H128.7V987.1H129.4V986.3H130.1V986.6H130.7V985.2H131.4V985.7H132.0V985.2H132.7V987.3H133.4V987.5H134.0V987.2H134.7V987.6H135.3V986.7H136.0V986.8H136.7V988.4H137.3V986.9H138.0V988.2H138.6V988.8H139.3V986.3H140.0V986.5H140.6V988.9H141.3V988.3H141.9V988.8H142.6V988.9H143.3V987.1H143.9V989.2H144.6V988.7H145.2V988.4H145.9V987.7H146.6V987.1H147.2V986.8H147.9V986.2H148.5V986.7H149.2V986.8H149.9V987.7H150.5V986.9H151.2V985.9H151.8V987.7H152.5V985.7H153.2V987.2H153.8V988.2H154.5V986.2H155.1V986.5H155.8V987.5H156.5V988.8H157.1V987.5H157.8V987.2H158.4V987.9H159.1V986.0H159.8V986.3H160.4V988.3H161.1V988.4H161.7V988.2H162.4V987.8H163.1V988.1H163.7V986.1H164.4V986.7H165.0V987.4H165.7V988.6H166.4V987.9H167.0V987.8H167.7V986.7H168.3V987.9H169.0V988.1H169.7V988.3H170.3V987.7H171.0V989.6H171.6V986.8H172.3V988.7H173.0V986.7H173.6V986.7H174.3V988.5H174.9V987.5H175.6V987.2H176.3V987.9H176.9V989.6H177.6V987.4H178.2V987.6H178.9V989.1H179.6V987.5H180.2V989.6H180.9V986.8H181.5V987.8H182.2V988.9H182.9V987.8H183.5V987.6H184.2V986.7H184.8V987.9H185.5V988.9H186.2V987.8H186.8V987.2H187.5V989.3H188.1V988.9H188.8V988.7H189.5V987.9H190.1V987.4H190.8V989.2H191.4V988.2H192.1V987.8H192.8V988.0H193.4V988.5H194.1V989.0H194.7V988.2H195.4V987.9H196.1V987.2H196.7V988.0H197.4V988.1H198.0V988.6H198.7V988.3H199.4V987.8H200.0V988.2H200.7V988.9H201.3V988.2H202.0V988.2H202.7V988.1H203.3V988.1H204.0V988.7H204.6V988.9H205.3V988.1H206.0V988.2H206.6V988.8H207.3V989.1H207.9V989.6H208.6V987.2H209.3V989.2H209.9V988.0H210.6V989.1H211.2V989.3H211.9V989.6H212.6V988.1H213.2V989.5H213.9V986.3H214.5V988.6H215.2V986.6H215.9V987.9H216.5V987.6H217.2V987.3H217.8V988.6H218.5V987.6H219.2V987.6H219.8V987.9H220.5V988.2H221.1V989.1" fill="none" stroke="#0a0a0a" stroke-width="2.70" stroke-linejoin="round"/>

</g>
<path d="M53.0 844.3H222.0V992.6" fill="none" stroke="#222" stroke-width="1.4"/>
<path d="M53.0 844.3V992.6" fill="none" stroke="#222" stroke-width="1.4"/>
<path d="M52.5 989.6H222.5" fill="none" stroke="#1a1a1a" stroke-width="1.6"/>
<path d="M65.7 990.1v1.6M73.2 990.1v1.6M78.4 990.1v1.6M82.5 990.1v1.6M85.9 990.1v1.6M88.7 990.1v1.6M91.2 990.1v1.6M93.3 990.1v1.6M108.0 990.1v1.6M115.4 990.1v1.6M120.7 990.1v1.6M124.8 990.1v1.6M128.1 990.1v1.6M131.0 990.1v1.6M133.4 990.1v1.6M135.6 990.1v1.6M95.2 990.1v3M150.2 990.1v1.6M157.7 990.1v1.6M162.9 990.1v1.6M167.0 990.1v1.6M170.4 990.1v1.6M173.2 990.1v1.6M175.7 990.1v1.6M177.8 990.1v1.6M137.5 990.1v3M192.5 990.1v1.6M199.9 990.1v1.6M205.2 990.1v1.6M209.3 990.1v1.6M212.6 990.1v1.6M215.5 990.1v1.6M217.9 990.1v1.6M220.1 990.1v1.6M179.8 990.1v3" stroke="#555" stroke-width="0.6" fill="none"/>
<clipPath id="c41"><rect x="243.3" y="844.3" width="168.8" height="145.3"/></clipPath>
<g clip-path="url(#c41)">
<path d="M253.3 987.6H254.0V987.2H254.6V986.6H255.3V986.9H255.9V986.5H256.6V986.2H257.3V985.5H257.9V985.8H258.6V985.2H259.2V985.5H259.9V984.3H260.6V983.9H261.2V983.3H261.9V981.7H262.5V980.9H263.2V979.8H263.9V979.0H264.5V978.7H265.2V976.9H265.8V973.4H266.5V973.0H267.2V968.1H267.8V966.8H268.5V962.6H269.1V958.6H269.8V953.9H270.5V949.5H271.1V945.0H271.8V940.2H272.4V928.2H273.1V918.0H273.8V910.2H274.4V903.0H275.1V900.0H275.7V890.0H276.4V882.7H277.1V878.0H277.7V869.4H278.4V861.2H279.0V847.1H279.7V840.1H280.4V838.3H281.0V839.2H281.7V839.1H282.3V839.9H283.0V841.3H283.7V845.0H284.3V838.3H285.0V840.4H285.6V840.7H286.3V839.0H287.0V838.3H287.6V840.7H288.3V840.7H288.9V840.2H289.6V838.3H290.3V838.3H290.9V838.3H291.6V841.3H292.2V841.2H292.9V838.3H293.6V839.6H294.2V841.4H294.9V841.5H295.5V838.3H296.2V838.9H296.9V839.1H297.5V838.3H298.2V842.2H298.8V838.3H299.5V839.9H300.2V845.8H300.8V856.1H301.5V867.8H302.1V875.8H302.8V892.8H303.5V905.9H304.1V917.7H304.8V927.6H305.4V937.4H306.1V944.7H306.8V953.3H307.4V954.6H308.1V958.4H308.7V961.7H309.4V965.0H310.1V969.3H310.7V971.0H311.4V972.2H312.0V973.8H312.7V975.7H313.4V976.6H314.0V978.3H314.7V979.1H315.3V979.5H316.0V979.8H316.7V981.4H317.3V981.9H318.0V982.3H318.6V983.2H319.3V982.9H320.0V983.7H320.6V983.1H321.3V983.4H321.9V983.4H322.6V984.2H323.3V983.8H323.9V984.4H324.6V984.5H325.2V984.4H325.9V985.6H326.6V985.4H327.2V985.1H327.9V985.5H328.5V985.5H329.2V985.3H329.9V986.1H330.5V985.9H331.2V986.0H331.8V986.0H332.5V986.2H333.2V986.3H333.8V986.2H334.5V986.3H335.1V986.4H335.8V986.0H336.5V986.5H337.1V987.0H337.8V987.2H338.4V986.9H339.1V986.8H339.8V987.3H340.4V986.9H341.1V986.9H341.7V986.9H342.4V986.8H343.1V987.8H343.7V987.4H344.4V986.8H345.0V987.3H345.7V987.1H346.4V987.8H347.0V987.5H347.7V987.5H348.3V987.9H349.0V988.1H349.7V987.7H350.3V987.9H351.0V987.7H351.6V988.2H352.3V988.1H353.0V988.1H353.6V988.0H354.3V988.5H354.9V988.2H355.6V988.5H356.3V988.6L356.3 989.6 L253.3 989.6Z" fill="#7e7e7e" stroke="#7e7e7e" stroke-width="0.6"/>
<path d="M274.6 984.7H275.3V982.5H275.9V980.4H276.6V979.0H277.2V976.4H277.9V974.1H278.6V973.2H279.2V971.0H279.9V968.4H280.5V965.7H281.2V963.9H281.9V962.8H282.5V959.8H283.2V956.4H283.8V952.4H284.5V946.8H285.2V944.1H285.8V939.2H286.5V932.5H287.1V926.9H287.8V915.4H288.5V902.3H289.1V868.2H289.8V838.9H290.4V838.3H291.1V840.7H291.8V840.5H292.4V839.4H293.1V839.2H293.7V841.4H294.4V842.4H295.1V840.3H295.7V838.6H296.4V838.5H297.0V841.2H297.7V839.6H298.4V839.6H299.0V839.9H299.7V839.6H300.3V839.2H301.0V838.3H301.7V838.3H302.3V838.3H303.0V839.6H303.6V838.3H304.3V840.6H305.0V841.6H305.6V839.2H306.3V838.3H306.9V839.6H307.6V842.0H308.3V852.0H308.9V863.6H309.6V874.7H310.2V884.4H310.9V893.6H311.6V902.6H312.2V911.4H312.9V915.1H313.5V918.4H314.2V924.5H314.9V928.7H315.5V932.3H316.2V935.5H316.8V939.6H317.5V941.8H318.2V943.7H318.8V947.9H319.5V951.3H320.1V953.4H320.8V955.2H321.5V957.3H322.1V959.4H322.8V961.2H323.4V963.3H324.1V965.8H324.8V967.7H325.4V967.8H326.1V968.1H326.7V969.5H327.4V970.3" fill="none" stroke="#111" stroke-width="1.30" stroke-dasharray="8 6"/>
<path d="M328.2 970.6H328.8V971.6H329.5V972.2H330.1V971.7H330.8V972.0H331.5V972.3H332.1V972.3H332.8V973.0H333.4V973.6H334.1V973.0H334.8V974.0H335.4V974.6H336.1V973.5H336.7V973.7H337.4V974.2H338.1V974.5H338.7V974.4H339.4V974.2H340.0V974.2H340.7V973.8H341.4V974.8H342.0V975.3H342.7V976.1H343.3V976.1H344.0V975.6H344.7V975.4H345.3V976.0H346.0V976.7H346.6V975.4H347.3V975.6H348.0V976.1H348.6V977.0H349.3V977.8H349.9V976.6H350.6V976.4H351.3V977.1H351.9V976.7H352.6V976.4H353.2V976.5H353.9V976.5H354.6V976.9H355.2V977.4H355.9V977.5H356.5V977.7H357.2V977.7H357.9V978.9H358.5V979.6H359.2V979.3H359.8V980.5H360.5V980.8H361.2V980.2H361.8V980.2H362.5V980.7H363.1V982.2H363.8V982.8H364.5V982.5H365.1V983.4H365.8V984.3H366.4V985.1H367.1V984.8H367.8V984.7H368.4V984.6H369.1V984.9H369.7V986.0H370.4V985.4H371.1V985.9H371.7V986.5H372.4V986.5H373.0V986.6H373.7V986.8H374.4V987.1H375.0V986.4H375.7V985.9H376.3V985.9H377.0V986.6H377.7V987.1H378.3V987.0H379.0V986.7H379.6V986.4H380.3V986.7H381.0V987.2H381.6V987.4H382.3V987.7H382.9V988.1H383.6V987.4H384.3V987.7H384.9V988.4H385.6V987.7H386.2V987.3H386.9V987.4H387.6V987.2H388.2V986.8H388.9V987.0H389.5V987.2H390.2V986.2H390.9V986.6H391.5V987.0H392.2V986.9H392.8V987.5H393.5V987.2H394.2V987.6H394.8V987.6H395.5V987.0H396.1V987.5H396.8V987.9H397.5V987.6H398.1V987.3H398.8V987.4H399.4V987.8H400.1V988.2H400.8V988.5H401.4V988.3H402.1V987.7H402.7V988.1H403.4V989.4H404.1V989.6H404.7V988.5H405.4V988.2H406.0V988.6H406.7V988.3H407.4V988.3H408.0V988.1H408.7V987.7H409.3V988.2H410.0V988.4H410.7V988.1H411.3V988.4" fill="none" stroke="#111" stroke-width="1.30" stroke-dasharray="4 3"/>
<path d="M243.3 985.6H244.0V984.7H244.6V984.6H245.3V984.0H246.0V984.3H246.6V982.9H247.3V981.3H247.9V981.6H248.6V981.3H249.3V979.2H249.9V978.6H250.6V976.1H251.2V979.4H251.9V977.3H252.6V978.0H253.2V974.1H253.9V972.4H254.5V974.9H255.2V972.8H255.9V973.4H256.5V971.5H257.2V972.4H257.8V969.6H258.5V968.5H259.2V968.1H259.8V965.4H260.5V964.2H261.1V965.4H261.8V961.8H262.5V960.3H263.1V958.9H263.8V956.2H264.4V955.0H265.1V955.7H265.8V952.2H266.4V945.3H267.1V941.4H267.7V941.9H268.4V936.4H269.1V933.4H269.7V934.8H270.4V932.7H271.0V933.2H271.7V931.6H272.4V933.2H273.0V923.4H273.7V921.0H274.3V920.5H275.0V920.3H275.7V914.7H276.3V911.0H277.0V904.0H277.6V911.8H278.3V906.9H279.0V911.3H279.6V911.4H280.3V911.0H280.9V906.2H281.6V906.8H282.3V899.7H282.9V904.2H283.6V901.2H284.2V904.7H284.9V899.4H285.6V899.9H286.2V897.8H286.9V905.4H287.5V900.0H288.2V896.3H288.9V901.3H289.5V902.0H290.2V913.1H290.8V918.0H291.5V920.0H292.2V925.3H292.8V926.3H293.5V939.0H294.1V941.0H294.8V950.9H295.5V949.2H296.1V954.5H296.8V958.5H297.4V961.6H298.1V963.4H298.8V967.4H299.4V968.3H300.1V969.7H300.7V970.3H301.4V975.3H302.1V975.0H302.7V976.6H303.4V977.1H304.0V978.6H304.7V979.0H305.4V982.9H306.0V983.2H306.7V983.1H307.3V983.2H308.0V983.9H308.7V983.1H309.3V984.7H310.0V984.6H310.6V984.7H311.3V985.0H312.0V985.4H312.6V986.7H313.3V986.8H313.9V986.2H314.6V987.2H315.3V987.1H315.9V987.0H316.6V988.3H317.2V987.0H317.9V986.3H318.6V987.5H319.2V986.7H319.9V988.2H320.5V988.1H321.2V987.5H321.9V988.2H322.5V987.6H323.2V987.6H323.8V986.7H324.5V986.5H325.2V987.9H325.8V989.6H326.5V987.4" fill="none" stroke="#111" stroke-width="1.30"/>
<path d="M243.3 987.3H244.0V986.5H244.6V987.5H245.3V985.9H246.0V986.4H246.6V986.7H247.3V985.5H247.9V985.7H248.6V985.4H249.3V985.9H249.9V985.8H250.6V985.7H251.2V985.2H251.9V983.5H252.6V983.9H253.2V984.6H253.9V983.6H254.5V983.9H255.2V981.1H255.9V980.9H256.5V980.4H257.2V981.2H257.8V979.5H258.5V978.6H259.2V979.6H259.8V978.1H260.5V976.6H261.1V978.1H261.8V976.8H262.5V977.1H263.1V976.7H263.8V973.7H264.4V972.6H265.1V971.4H265.8V971.3H266.4V968.6H267.1V969.1H267.7V964.6H268.4V964.2H269.1V965.4H269.7V958.3H270.4V956.2H271.0V957.9H271.7V955.5H272.4V953.4H273.0V950.5H273.7V948.5H274.3V941.8H275.0V940.5H275.7V938.7H276.3V930.2H277.0V926.6H277.6V925.4H278.3V927.1H279.0V923.8H279.6V914.4H280.3V914.1H280.9V911.5H281.6V911.0H282.3V908.8H282.9V905.4H283.6V899.4H284.2V904.2H284.9V901.4H285.6V890.9H286.2V891.6H286.9V893.8H287.5V888.3H288.2V886.2H288.9V880.1H289.5V885.4H290.2V872.7H290.8V881.2H291.5V888.4H292.2V881.8H292.8V893.9H293.5V895.4H294.1V893.0H294.8V899.3H295.5V907.2H296.1V903.8H296.8V907.1H297.4V902.1H298.1V909.6H298.8V917.3H299.4V921.4H300.1V926.8H300.7V930.3H301.4V936.2H302.1V935.0H302.7V944.0H303.4V940.1H304.0V943.7H304.7V939.8H305.4V945.2H306.0V948.4H306.7V950.2H307.3V948.3H308.0V950.8H308.7V949.4H309.3V954.8H310.0V953.1H310.6V959.2H311.3V959.2H312.0V961.4H312.6V962.2H313.3V963.0H313.9V964.8H314.6V964.4H315.3V962.2H315.9V968.9H316.6V966.2H317.2V969.8H317.9V969.8H318.6V970.2H319.2V970.4H319.9V971.3H320.5V971.8H321.2V972.2H321.9V972.6H322.5V973.9H323.2V975.0H323.8V974.0H324.5V975.5H325.2V973.7H325.8V975.0H326.5V974.3H327.1V976.9H327.8V978.3H328.5V979.2H329.1V977.1H329.8V980.4H330.4V978.6H331.1V979.9H331.8V980.2H332.4V982.8H333.1V981.4H333.7V983.8H334.4V982.7H335.1V981.6H335.7V982.5H336.4V983.7H337.0V981.6H337.7V982.2H338.4V982.9H339.0V982.8H339.7V983.1H340.3V985.2H341.0V983.9H341.7V983.6H342.3V983.8H343.0V983.0H343.6V985.2H344.3V983.9H345.0V988.1H345.6V985.1H346.3V984.1H346.9V983.6H347.6V984.4H348.3V985.3H348.9V984.4H349.6V985.7H350.2V985.8H350.9V985.7H351.6V985.7H352.2V985.3H352.9V984.7H353.5V984.2H354.2V983.9H354.9V985.1H355.5V986.3H356.2V985.7H356.8V984.7H357.5V986.7H358.2V984.9H358.8V984.8H359.5V985.1H360.1V985.4H360.8V986.1H361.5V985.0H362.1V984.7H362.8V986.7H363.4V986.6H364.1V986.9H364.8V987.2H365.4V986.6H366.1V988.3H366.7V986.4H367.4V986.6H368.1V988.0H368.7V987.2H369.4V986.7H370.0V986.9H370.7V985.8H371.4V987.7H372.0V986.9H372.7V987.6H373.3V988.5H374.0V988.0H374.7V987.5H375.3V987.7H376.0V987.5H376.6V989.1H377.3V985.6H378.0V987.1H378.6V986.8H379.3V988.1H379.9V987.5H380.6V987.8H381.3V989.6H381.9V988.1H382.6V988.6H383.2V987.4H383.9V987.2H384.6V986.9H385.2V989.3H385.9V986.8H386.5V987.5H387.2V989.6H387.9V988.4H388.5V988.0H389.2V987.8H389.8V986.9H390.5V988.4H391.2V989.1H391.8V987.2H392.5V987.7H393.1V989.6H393.8V987.8H394.5V988.9H395.1V989.6H395.8V987.4H396.4V988.2H397.1V987.4H397.8V986.1H398.4V989.6H399.1V988.9H399.7V988.1H400.4V988.8H401.1V987.8H401.7V987.0H402.4V987.8H403.0V987.7H403.7V987.5H404.4V989.5H405.0V987.7H405.7V987.5H406.3V988.7H407.0V989.0H407.7V989.6H408.3V988.9H409.0V987.3H409.6V987.8H410.3V989.6H411.0V988.1" fill="none" stroke="#0a0a0a" stroke-width="2.70" stroke-linejoin="round"/>

</g>
<path d="M243.3 844.3H412.1V992.6" fill="none" stroke="#222" stroke-width="1.4"/>
<path d="M243.3 844.3V992.6" fill="none" stroke="#222" stroke-width="1.4"/>
<path d="M242.8 989.6H412.6" fill="none" stroke="#1a1a1a" stroke-width="1.6"/>
<path d="M256.0 990.1v1.6M263.4 990.1v1.6M268.7 990.1v1.6M272.8 990.1v1.6M276.1 990.1v1.6M279.0 990.1v1.6M281.4 990.1v1.6M283.6 990.1v1.6M298.2 990.1v1.6M305.6 990.1v1.6M310.9 990.1v1.6M315.0 990.1v1.6M318.3 990.1v1.6M321.2 990.1v1.6M323.6 990.1v1.6M325.8 990.1v1.6M285.5 990.1v3M340.4 990.1v1.6M347.8 990.1v1.6M353.1 990.1v1.6M357.2 990.1v1.6M360.5 990.1v1.6M363.4 990.1v1.6M365.8 990.1v1.6M368.0 990.1v1.6M327.7 990.1v3M382.6 990.1v1.6M390.0 990.1v1.6M395.3 990.1v1.6M399.4 990.1v1.6M402.7 990.1v1.6M405.6 990.1v1.6M408.0 990.1v1.6M410.2 990.1v1.6M369.9 990.1v3" stroke="#555" stroke-width="0.6" fill="none"/>
<text transform="translate(96.10,18.60) scale(0.950,1)" font-size="16.0" textLength="44.84" lengthAdjust="spacing">pCCL</text>
<text transform="translate(265.50,16.30) scale(0.950,1)" font-size="16.5" textLength="65.26" lengthAdjust="spacing">AKT-ER</text>
<text transform="translate(73.40,215.80) scale(0.950,1)" font-size="16.7" textLength="56.00" lengthAdjust="spacing">FOXP3</text>
<path d="M135.5 210.7H327.7" stroke="#111" stroke-width="1.6" fill="none"/>
<path d="M335.7 210.7l-10.5 -4.9v9.8z" fill="#111"/>
<text transform="translate(70.30,421.00) scale(0.950,1)" font-size="16.7" textLength="54.32" lengthAdjust="spacing">CTLA4</text>
<path d="M135.0 415.3H325.4" stroke="#111" stroke-width="1.6" fill="none"/>
<path d="M333.4 415.3l-10.5 -4.9v9.8z" fill="#111"/>
<text transform="translate(70.30,623.00) scale(0.950,1)" font-size="16.7" textLength="42.11" lengthAdjust="spacing">CD25</text>
<path d="M125.8 616.8H317.3" stroke="#111" stroke-width="1.6" fill="none"/>
<path d="M325.3 616.8l-10.5 -4.9v9.8z" fill="#111"/>
<text transform="translate(72.60,821.70) scale(0.950,1)" font-size="17.2" textLength="103.37" lengthAdjust="spacing">Granzyme A</text>
<path d="M175.0 817.4H344.8" stroke="#111" stroke-width="1.6" fill="none"/>
<path d="M352.8 817.4l-10.5 -4.9v9.8z" fill="#111"/>
<text transform="translate(72.60,1036.90) scale(0.950,1)" font-size="17.2" textLength="102.21" lengthAdjust="spacing">Granzyme B</text>
<path d="M175.0 1030.9H344.8" stroke="#111" stroke-width="1.6" fill="none"/>
<path d="M352.8 1030.9l-10.5 -4.9v9.8z" fill="#111"/>
<path d="M21.5 76V668.4M21.5 787V986.6" stroke="#111" stroke-width="1.5" fill="none"/>
<path d="M21.5 67.5l-5 9.8h10z" fill="#111"/>
<text transform="translate(27.30,751.40) rotate(-90) scale(0.860,1)" font-size="18.2" textLength="67.33" lengthAdjust="spacing">Counts</text>
<text x="82.8" y="1006.3" class="tk" font-size="12.4" letter-spacing="0.9">10<tspan font-size="8.5" dy="-4.5">1</tspan></text>
<text x="125.5" y="1006.5" class="tk" font-size="12.4" letter-spacing="0.9">10<tspan font-size="8.5" dy="-4.5">2</tspan></text>
<text x="166.9" y="1008.3" class="tk" font-size="12.4" letter-spacing="0.9">10<tspan font-size="8.5" dy="-4.5">3</tspan></text>
<text x="210.2" y="1006.0" class="tk" font-size="12.4" letter-spacing="0.9">10<tspan font-size="8.5" dy="-4.5">4</tspan></text>
<text x="272.8" y="1006.3" class="tk" font-size="12.4" letter-spacing="0.9">10<tspan font-size="8.5" dy="-4.5">1</tspan></text>
<text x="315.5" y="1006.5" class="tk" font-size="12.4" letter-spacing="0.9">10<tspan font-size="8.5" dy="-4.5">2</tspan></text>
<text x="356.9" y="1008.3" class="tk" font-size="12.4" letter-spacing="0.9">10<tspan font-size="8.5" dy="-4.5">3</tspan></text>
<text x="400.2" y="1006.0" class="tk" font-size="12.4" letter-spacing="0.9">10<tspan font-size="8.5" dy="-4.5">4</tspan></text>
<path d="M4.5 1077h6.5M14.5 1077h6.5M25 1077h6.5" stroke="#111" stroke-width="2" fill="none"/>
<text transform="translate(43.50,1081.10) scale(0.950,1)" font-size="16.7" textLength="63.16" lengthAdjust="spacing">Resting</text>
<text transform="translate(43.50,1102.20) scale(0.950,1)" font-size="16.7" textLength="90.11" lengthAdjust="spacing">CD4<tspan font-size="11" dy="-4.8">+</tspan><tspan dy="4.8">CD25</tspan><tspan font-size="11" dy="-4.8">-</tspan></text>
<rect x="138.8" y="1070" width="15" height="15.2" fill="#777" stroke="#6a6a6a" stroke-width="0.6"/>
<text transform="translate(165.90,1081.10) scale(0.950,1)" font-size="16.7" textLength="62.74" lengthAdjust="spacing">Resting</text>
<text transform="translate(165.90,1102.20) scale(0.950,1)" font-size="16.7" textLength="93.26" lengthAdjust="spacing">CD4<tspan font-size="11" dy="-4.8">+</tspan><tspan dy="4.8">CD25</tspan><tspan font-size="11" dy="-4.8">+</tspan></text>
<path d="M248.8 1076.3H268" stroke="#111" stroke-width="1.1"/>
<text transform="translate(275.90,1081.80) scale(0.950,1)" font-size="16.7" textLength="68.00" lengthAdjust="spacing">αCD3/28</text>
<text transform="translate(276.00,1102.20) scale(0.950,1)" font-size="16.7" textLength="95.68" lengthAdjust="spacing">CD4<tspan font-size="11" dy="-4.8">+</tspan><tspan dy="4.8">CD25</tspan><tspan font-size="11" dy="-4.8">+</tspan></text>
<path d="M371.3 1076.5H392.5" stroke="#111" stroke-width="2.6"/>
<text transform="translate(399.00,1081.80) scale(0.950,1)" font-size="16.7" textLength="122.11" lengthAdjust="spacing">αCD3/28 + 4HT</text>
<text transform="translate(400.90,1102.20) scale(0.950,1)" font-size="16.7" textLength="93.26" lengthAdjust="spacing">CD4<tspan font-size="11" dy="-4.8">+</tspan><tspan dy="4.8">CD25</tspan><tspan font-size="11" dy="-4.8">+</tspan></text>
</svg>
</body></html>
